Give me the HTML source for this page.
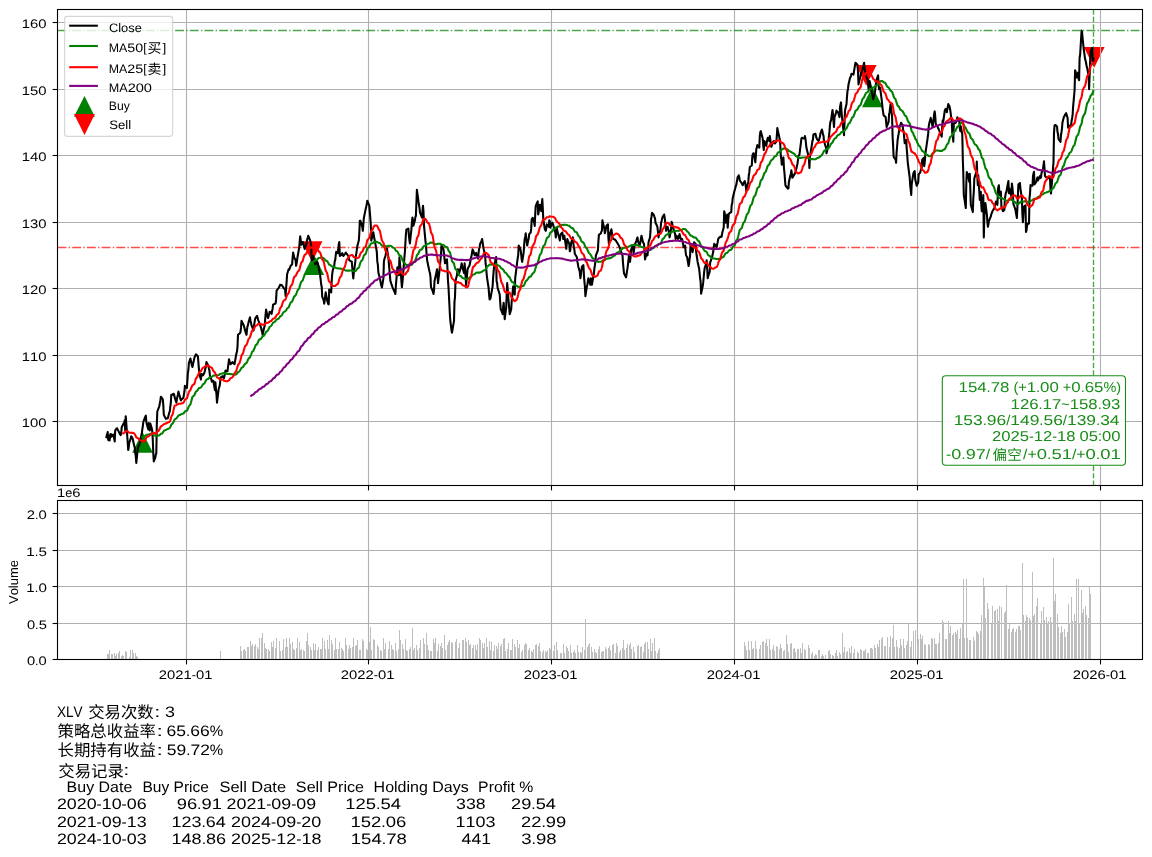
<!DOCTYPE html>
<html><head><meta charset="utf-8"><title>XLV</title>
<style>
html,body{margin:0;padding:0;background:#fff;}
body{width:1152px;height:857px;overflow:hidden;}
svg{display:block;will-change:transform;}
text{font-family:"Liberation Sans","Noto Sans CJK SC",sans-serif;font-kerning:none;white-space:pre;text-rendering:geometricPrecision;}
</style></head><body>
<svg width="1152" height="857" viewBox="0 0 1152 857">
<mask id="tm"><rect x="0" y="0" width="1152" height="857" fill="#fff"/></mask>
<g mask="url(#tm)">
<rect x="0" y="0" width="1152" height="857" fill="#fff"/>
<g stroke="#b0b0b0" stroke-width="1.1">
<line x1="186.5" y1="9.5" x2="186.5" y2="485.5"/>
<line x1="368.5" y1="9.5" x2="368.5" y2="485.5"/>
<line x1="551.5" y1="9.5" x2="551.5" y2="485.5"/>
<line x1="734.5" y1="9.5" x2="734.5" y2="485.5"/>
<line x1="917.5" y1="9.5" x2="917.5" y2="485.5"/>
<line x1="1100.5" y1="9.5" x2="1100.5" y2="485.5"/>
<line x1="57.5" y1="22.5" x2="1142.5" y2="22.5"/>
<line x1="57.5" y1="89.5" x2="1142.5" y2="89.5"/>
<line x1="57.5" y1="155.5" x2="1142.5" y2="155.5"/>
<line x1="57.5" y1="222.5" x2="1142.5" y2="222.5"/>
<line x1="57.5" y1="288.5" x2="1142.5" y2="288.5"/>
<line x1="57.5" y1="355.5" x2="1142.5" y2="355.5"/>
<line x1="57.5" y1="421.5" x2="1142.5" y2="421.5"/>
<line x1="186.5" y1="500.5" x2="186.5" y2="659.5"/>
<line x1="368.5" y1="500.5" x2="368.5" y2="659.5"/>
<line x1="551.5" y1="500.5" x2="551.5" y2="659.5"/>
<line x1="734.5" y1="500.5" x2="734.5" y2="659.5"/>
<line x1="917.5" y1="500.5" x2="917.5" y2="659.5"/>
<line x1="1100.5" y1="500.5" x2="1100.5" y2="659.5"/>
<line x1="57.5" y1="659.5" x2="1142.5" y2="659.5"/>
<line x1="57.5" y1="623.5" x2="1142.5" y2="623.5"/>
<line x1="57.5" y1="586.5" x2="1142.5" y2="586.5"/>
<line x1="57.5" y1="550.5" x2="1142.5" y2="550.5"/>
<line x1="57.5" y1="513.5" x2="1142.5" y2="513.5"/>
</g>
<clipPath id="c1"><rect x="57.5" y="9.5" width="1085.0" height="476.0"/></clipPath>
<g clip-path="url(#c1)">
<path d="M142.5 432.0 L132.1 452.8 L152.9 452.8Z" fill="#008000"/>
<path d="M313.8 254.2 L303.4 275.0 L324.2 275.0Z" fill="#008000"/>
<path d="M872.4 86.5 L862.0 107.3 L882.8 107.3Z" fill="#008000"/>
<path d="M312.1 262.1 L301.7 241.3 L322.5 241.3Z" fill="#ff0000"/>
<path d="M866.2 85.8 L855.8 65.0 L876.6 65.0Z" fill="#ff0000"/>
<path d="M1094.2 67.7 L1083.8 46.9 L1104.6 46.9Z" fill="#ff0000"/>
<line x1="1100.5" y1="40" x2="1100.5" y2="75" stroke="#b0b0b0" stroke-width="1.1"/>
<line x1="57.5" y1="30.5" x2="1142.5" y2="30.5" stroke="#008000" stroke-opacity="0.7" stroke-width="1.39" stroke-dasharray="8.9 2.2 1.4 2.2"/>
<line x1="57.5" y1="247.5" x2="1142.5" y2="247.5" stroke="#ff0000" stroke-opacity="0.7" stroke-width="1.39" stroke-dasharray="8.9 2.2 1.4 2.2"/>
<line x1="1093.5" y1="9.5" x2="1093.5" y2="485.5" stroke="#008000" stroke-opacity="0.7" stroke-width="1.39" stroke-dasharray="5.14 2.22"/>
<path d="M106.2 438.3 L106.7 435.9 L107.2 434.4 L107.7 432.0 L108.2 439.9 L109.7 440.4 L110.2 434.6 L110.7 434.1 L111.2 434.3 L111.7 436.7 L113.2 434.6 L113.7 434.6 L114.2 438.9 L114.7 441.4 L115.2 430.4 L116.7 428.5 L117.2 428.3 L117.7 429.8 L118.2 430.4 L118.7 431.5 L120.2 434.4 L120.7 435.1 L121.2 433.0 L121.7 427.3 L122.2 426.3 L123.7 423.3 L124.2 423.1 L124.7 420.4 L125.2 430.4 L125.7 416.2 L127.7 442.0 L128.2 449.9 L128.7 447.7 L129.2 443.0 L130.7 438.6 L131.2 436.2 L131.7 437.0 L132.2 437.5 L132.7 438.8 L134.2 445.8 L134.7 447.2 L135.2 452.4 L135.8 456.6 L136.3 463.0 L137.8 448.3 L138.3 446.9 L138.8 445.6 L139.3 444.7 L139.8 443.0 L141.3 435.7 L141.8 433.6 L142.3 429.4 L142.8 426.5 L143.3 422.0 L144.8 417.8 L145.3 416.6 L145.8 415.7 L146.3 421.6 L146.8 424.1 L148.3 429.4 L148.8 423.1 L149.3 426.8 L149.8 430.4 L150.3 423.6 L151.8 428.5 L152.3 431.5 L152.8 440.1 L153.3 453.5 L153.8 461.4 L155.3 457.6 L155.8 454.5 L156.3 453.5 L156.8 424.5 L157.3 411.5 L158.8 407.6 L159.3 406.3 L159.8 403.5 L160.3 401.5 L160.8 396.8 L162.3 398.4 L162.8 399.4 L163.3 405.1 L163.8 414.7 L164.3 415.7 L165.8 418.9 L166.3 418.5 L166.8 418.5 L167.8 418.3 L169.3 412.4 L169.8 411.5 L170.3 406.7 L170.8 403.0 L171.3 394.7 L172.8 394.6 L173.3 393.7 L173.8 393.7 L174.3 395.3 L174.8 397.9 L176.4 402.6 L176.9 398.8 L177.4 396.7 L177.9 394.7 L178.4 391.6 L179.9 396.7 L180.4 398.9 L180.9 400.5 L181.4 399.4 L183.4 397.9 L183.9 394.7 L184.4 391.8 L184.9 385.9 L186.9 388.0 L187.4 380.6 L187.9 372.6 L188.4 370.0 L188.9 362.8 L190.4 358.6 L190.9 360.8 L191.4 363.2 L191.9 365.4 L192.4 367.0 L194.4 357.9 L194.9 356.3 L195.4 355.6 L195.9 354.4 L197.4 355.6 L197.9 356.5 L198.4 362.5 L198.9 368.9 L199.4 374.0 L200.9 379.6 L201.4 374.0 L201.9 374.0 L202.4 374.5 L202.9 375.4 L204.4 372.7 L204.9 370.8 L205.4 368.4 L205.9 367.0 L206.4 362.1 L208.4 365.9 L208.9 368.4 L209.4 370.4 L209.9 375.4 L211.4 379.6 L211.9 381.7 L212.4 381.0 L212.9 380.8 L213.4 381.0 L214.9 390.1 L215.4 382.4 L215.9 388.7 L216.5 394.6 L217.0 402.7 L218.5 390.1 L219.0 387.6 L219.5 386.6 L220.0 383.8 L220.5 377.5 L222.0 377.0 L222.5 376.1 L223.0 377.1 L223.5 377.5 L224.0 378.2 L225.5 370.5 L226.0 371.0 L226.5 370.9 L227.0 371.4 L227.5 371.2 L229.0 359.3 L229.5 361.4 L230.0 362.8 L230.5 364.2 L232.5 362.1 L233.0 363.0 L233.5 363.5 L234.0 363.6 L234.5 364.2 L236.0 355.8 L236.5 353.0 L237.0 351.6 L237.5 346.6 L238.0 334.8 L239.5 333.5 L240.0 333.0 L240.5 332.0 L241.0 327.9 L241.5 320.8 L243.0 323.9 L243.5 324.7 L244.0 326.4 L244.5 328.0 L245.0 330.3 L246.5 334.8 L247.0 329.4 L247.5 326.4 L248.0 324.9 L248.5 322.4 L250.0 317.3 L250.5 321.2 L251.0 322.6 L251.5 325.4 L252.0 326.4 L253.5 330.6 L254.0 325.8 L254.5 322.6 L255.0 319.3 L255.5 318.0 L257.1 315.9 L257.6 317.8 L258.1 319.8 L258.6 321.1 L259.1 322.2 L261.1 327.8 L261.6 330.5 L262.1 331.9 L262.6 334.8 L264.1 327.8 L264.6 326.4 L265.1 320.1 L265.6 314.4 L266.1 309.6 L267.6 316.9 L268.1 318.0 L268.6 315.8 L269.1 314.5 L269.6 311.7 L271.1 312.8 L271.6 313.8 L272.1 311.0 L272.6 308.7 L273.1 304.7 L274.6 303.9 L275.1 304.0 L275.6 303.3 L276.1 299.4 L276.6 290.7 L278.6 288.0 L279.1 287.0 L279.6 286.4 L280.1 284.7 L281.6 285.1 L282.1 285.4 L282.6 286.4 L283.1 286.9 L283.6 288.0 L285.1 289.6 L285.6 295.9 L286.1 288.1 L286.6 282.1 L287.1 274.2 L288.6 269.3 L289.1 270.0 L289.6 268.5 L290.1 267.5 L290.6 265.8 L292.1 264.4 L292.6 258.2 L293.1 252.5 L293.6 254.8 L294.1 257.2 L295.6 260.2 L296.1 265.8 L296.6 263.4 L297.1 259.9 L297.7 256.0 L299.2 247.6 L299.7 241.3 L300.2 236.4 L300.7 239.6 L301.2 244.8 L302.7 242.0 L303.2 243.1 L303.7 245.3 L304.2 247.4 L304.7 249.0 L306.2 244.8 L306.7 242.0 L307.2 239.5 L307.7 237.8 L308.2 235.7 L310.2 240.6 L310.7 242.7 L311.2 246.2 L311.7 260.2 L313.2 256.0 L313.7 259.4 L314.2 261.2 L314.7 263.0 L315.2 264.4 L316.7 263.2 L317.2 261.6 L317.7 262.8 L318.2 265.1 L318.7 267.2 L320.2 275.6 L320.7 280.0 L321.2 284.6 L321.7 286.8 L322.2 296.6 L323.7 300.3 L324.2 303.6 L324.7 300.5 L325.2 296.0 L325.7 292.4 L327.2 300.8 L327.7 302.1 L328.2 304.1 L328.7 304.3 L329.2 289.6 L330.7 291.8 L331.2 292.4 L331.7 280.9 L332.2 274.2 L332.7 270.6 L334.2 265.8 L334.7 261.3 L335.2 260.2 L335.7 255.5 L336.2 251.8 L337.8 253.2 L338.3 249.5 L338.8 244.1 L339.3 242.0 L339.8 256.0 L341.3 254.9 L341.8 253.8 L342.3 253.2 L342.8 254.0 L343.3 256.0 L344.8 254.2 L345.3 253.5 L345.8 252.5 L346.3 253.3 L346.8 253.9 L348.3 256.0 L348.8 258.4 L349.3 260.2 L350.3 261.0 L351.8 261.6 L352.3 268.0 L352.8 273.8 L353.3 278.4 L353.8 272.8 L355.3 261.8 L355.8 256.0 L356.3 253.4 L356.8 250.2 L357.3 246.2 L358.8 240.6 L359.3 233.5 L359.8 221.0 L360.3 220.7 L360.8 221.7 L362.3 227.1 L362.8 230.8 L363.3 225.1 L363.8 218.2 L365.8 208.4 L366.3 206.2 L366.8 203.7 L367.3 200.7 L369.3 205.6 L369.8 211.8 L370.3 218.2 L370.8 225.2 L371.3 240.6 L372.8 234.1 L373.3 232.2 L373.8 235.2 L374.3 238.6 L374.8 240.6 L376.8 251.8 L377.3 261.6 L377.8 264.1 L378.4 272.8 L379.9 278.2 L380.4 281.2 L380.9 283.9 L381.4 286.0 L381.9 287.5 L383.4 278.4 L383.9 261.6 L384.4 259.0 L384.9 257.7 L385.4 256.0 L386.9 248.4 L387.4 251.4 L387.9 254.2 L388.4 257.3 L388.9 264.0 L390.4 281.1 L390.9 282.4 L391.4 284.1 L391.9 285.2 L392.4 287.1 L394.4 291.5 L394.9 292.8 L395.4 294.0 L395.9 285.4 L397.4 267.2 L397.9 271.1 L398.4 273.5 L398.9 275.2 L399.4 257.3 L400.9 273.6 L401.4 281.1 L401.9 287.1 L402.4 282.7 L402.9 277.1 L404.4 257.3 L404.9 251.8 L405.4 242.8 L405.9 234.3 L406.4 229.5 L407.9 229.1 L408.4 228.5 L408.9 235.6 L409.4 240.0 L409.9 243.4 L411.4 229.5 L411.9 222.7 L412.4 217.6 L412.9 219.5 L413.4 225.6 L414.9 220.5 L415.4 217.1 L415.9 215.6 L416.4 203.3 L416.9 189.8 L418.5 201.7 L419.0 204.8 L419.5 207.9 L420.0 212.7 L422.0 217.6 L422.5 210.6 L423.0 205.7 L423.5 211.5 L424.0 225.6 L425.5 241.4 L426.0 245.9 L426.5 252.5 L427.0 259.3 L427.5 262.3 L429.0 269.2 L429.5 271.5 L430.0 273.2 L430.5 277.5 L431.0 287.1 L432.5 290.5 L433.0 292.3 L433.5 294.0 L434.0 290.4 L434.5 281.1 L436.0 274.6 L436.5 271.9 L437.0 269.2 L437.5 275.0 L438.0 283.1 L439.5 270.3 L440.0 265.2 L440.5 259.8 L441.0 254.6 L441.5 245.4 L443.5 249.4 L444.0 254.1 L444.5 259.2 L445.0 263.3 L446.5 259.6 L447.0 259.3 L447.5 269.6 L448.0 281.1 L448.5 287.3 L450.0 316.8 L450.5 322.3 L451.0 325.8 L451.5 330.6 L452.0 332.7 L454.0 320.8 L454.5 301.6 L455.0 297.0 L455.5 281.1 L457.0 275.0 L457.5 269.2 L458.0 269.3 L458.5 270.5 L459.1 273.2 L461.1 266.4 L461.6 263.3 L462.1 265.7 L462.6 268.3 L464.1 273.2 L464.6 263.3 L465.1 268.8 L465.6 276.7 L466.1 285.1 L467.6 269.2 L468.1 268.0 L468.6 267.1 L469.1 266.2 L469.6 265.2 L471.1 257.3 L471.6 255.6 L472.1 252.2 L472.6 249.4 L473.1 250.4 L474.6 255.3 L475.1 254.8 L475.6 253.9 L476.1 252.9 L476.6 254.6 L478.1 258.6 L478.6 252.7 L479.1 248.8 L479.6 247.2 L480.1 244.0 L481.6 240.6 L482.1 239.0 L482.6 241.9 L483.1 246.1 L483.6 248.8 L485.1 255.3 L485.6 263.7 L486.1 266.8 L486.6 273.5 L487.1 278.2 L488.6 288.0 L489.1 294.7 L489.6 299.5 L490.1 299.0 L490.6 297.8 L492.6 286.4 L493.1 278.0 L493.6 271.7 L494.1 266.7 L495.6 258.6 L496.1 257.0 L496.6 281.5 L497.1 282.9 L497.6 288.0 L499.1 292.4 L499.7 294.6 L500.2 302.1 L500.7 309.3 L501.2 310.1 L502.7 314.2 L503.2 306.1 L503.7 302.7 L504.2 310.8 L504.7 319.1 L506.2 307.6 L506.7 293.2 L507.2 283.1 L507.7 289.2 L508.2 296.2 L509.7 314.2 L510.2 312.6 L510.7 310.9 L511.2 309.1 L511.7 301.1 L513.2 286.4 L513.7 289.3 L514.2 292.3 L514.7 294.6 L515.2 278.2 L516.7 266.0 L517.2 261.9 L517.7 258.1 L518.2 255.3 L518.7 245.5 L520.2 248.5 L520.7 250.4 L521.2 254.6 L521.7 259.5 L522.2 261.9 L523.7 252.1 L524.2 244.0 L524.7 239.0 L525.2 236.9 L525.7 233.3 L527.2 245.5 L527.7 243.1 L528.2 240.6 L528.7 238.7 L529.2 234.1 L530.7 232.5 L531.2 228.4 L531.7 219.4 L532.7 217.8 L534.2 222.9 L534.7 225.9 L535.2 214.9 L535.7 206.3 L536.2 204.7 L537.7 201.4 L538.2 214.5 L538.7 211.8 L539.2 207.7 L539.8 204.7 L541.3 211.2 L541.8 203.6 L542.3 199.0 L542.8 208.6 L543.3 219.4 L544.8 229.2 L545.3 230.2 L545.8 230.8 L546.3 227.8 L546.8 224.3 L548.8 226.8 L549.3 220.2 L549.8 221.5 L550.3 227.6 L552.3 222.7 L552.8 223.7 L553.3 225.1 L553.8 227.4 L555.3 232.5 L555.8 237.4 L556.3 232.7 L556.8 227.6 L557.3 230.8 L559.3 238.3 L559.8 240.6 L560.3 236.7 L560.8 234.1 L562.3 232.5 L562.8 235.1 L563.3 239.0 L563.8 238.4 L564.3 235.7 L565.8 245.3 L566.3 248.8 L566.8 243.5 L567.3 239.0 L567.8 240.4 L569.3 243.9 L569.8 251.3 L570.3 249.8 L570.8 245.5 L571.3 242.3 L572.8 237.4 L573.3 242.7 L573.8 247.2 L574.3 249.1 L574.8 253.7 L576.8 257.0 L577.3 261.2 L577.8 263.5 L578.3 266.7 L579.8 271.7 L580.4 278.2 L580.9 274.9 L581.4 270.5 L581.9 266.8 L583.4 265.2 L583.9 274.8 L584.4 281.5 L584.9 286.5 L585.4 296.2 L586.9 286.4 L587.4 284.4 L587.9 280.8 L588.4 278.2 L588.9 280.5 L590.4 284.8 L590.9 278.2 L591.4 280.4 L591.9 284.8 L592.4 281.8 L593.9 273.3 L594.4 268.4 L594.9 265.3 L595.4 261.1 L595.9 255.3 L597.4 251.6 L597.9 250.4 L598.4 241.4 L598.9 234.9 L600.9 233.3 L601.4 231.5 L601.9 230.8 L602.4 220.2 L602.9 222.4 L604.4 229.2 L604.9 233.3 L605.4 231.3 L605.9 228.5 L606.4 225.9 L607.9 224.3 L608.4 238.2 L608.9 243.9 L609.4 238.5 L609.9 234.1 L611.4 229.2 L611.9 232.8 L612.4 237.4 L612.9 238.2 L613.4 239.0 L614.9 239.4 L615.4 240.2 L615.9 240.6 L616.4 241.5 L616.9 242.3 L618.4 244.8 L618.9 245.5 L619.4 246.9 L619.9 248.1 L620.5 250.4 L622.0 254.2 L622.5 255.3 L623.0 263.1 L623.5 268.4 L624.0 273.3 L626.0 277.4 L626.5 274.8 L627.0 270.9 L627.5 268.4 L629.0 255.3 L629.5 259.5 L630.0 261.9 L630.5 257.6 L631.0 250.4 L632.5 245.5 L633.0 248.0 L633.5 252.9 L634.0 250.7 L634.5 245.5 L636.5 240.6 L637.0 238.4 L637.5 237.4 L638.0 241.2 L639.5 245.5 L640.0 243.9 L640.5 241.6 L641.0 237.9 L641.5 235.7 L643.0 242.3 L644.0 243.9 L644.5 250.6 L645.0 259.4 L646.5 253.7 L647.0 254.5 L647.5 255.3 L648.0 250.6 L648.5 242.3 L650.0 237.4 L650.5 231.2 L651.0 219.4 L651.5 216.7 L652.0 212.9 L653.5 214.5 L654.0 215.4 L654.5 217.0 L655.0 218.4 L655.5 222.7 L657.0 225.8 L657.5 227.6 L658.0 232.4 L658.5 237.4 L659.0 234.8 L660.5 229.2 L661.1 223.0 L661.6 221.0 L662.1 218.6 L662.6 217.0 L664.1 214.5 L664.6 217.3 L665.1 221.0 L665.6 225.7 L666.1 230.8 L667.6 226.8 L668.1 229.2 L668.6 230.0 L669.1 234.2 L669.6 237.4 L671.1 229.2 L671.6 221.9 L672.1 223.0 L672.6 225.7 L673.1 227.6 L675.1 234.1 L675.6 239.0 L676.1 238.2 L676.6 235.7 L678.1 239.0 L678.6 238.3 L679.1 235.5 L679.6 234.1 L680.1 236.6 L681.6 240.6 L682.1 239.0 L682.6 241.3 L683.1 244.3 L683.6 247.2 L685.1 245.5 L685.6 251.8 L686.1 255.3 L686.6 256.2 L687.1 257.0 L688.6 266.0 L689.1 263.2 L689.6 259.0 L690.1 255.3 L690.6 243.9 L692.1 248.5 L692.6 252.1 L693.1 248.2 L693.6 244.6 L694.1 242.3 L695.6 243.9 L696.1 250.9 L696.6 255.3 L697.1 258.1 L697.6 261.9 L699.1 268.4 L699.6 273.2 L700.1 278.3 L700.6 281.5 L701.1 293.7 L702.7 286.4 L703.2 282.4 L703.7 277.0 L704.2 271.7 L704.7 268.0 L706.2 263.5 L706.7 260.2 L707.2 268.6 L707.7 278.2 L708.2 276.2 L709.7 271.7 L710.2 261.9 L710.7 261.3 L711.2 259.5 L711.7 258.6 L713.2 252.1 L713.7 247.6 L714.2 243.9 L715.2 245.0 L716.7 247.2 L717.2 244.0 L717.7 242.2 L718.2 239.1 L718.7 238.2 L720.2 236.6 L720.7 237.1 L721.2 236.6 L721.7 236.6 L722.2 233.1 L723.7 227.6 L724.2 211.3 L724.7 213.2 L725.2 217.9 L725.7 222.7 L727.2 214.6 L727.7 227.6 L728.2 220.5 L728.7 214.6 L729.2 213.4 L731.2 212.1 L731.7 204.8 L732.2 203.5 L732.7 198.2 L734.7 190.1 L735.2 188.5 L735.7 186.5 L736.2 185.2 L737.7 177.0 L738.2 176.5 L738.7 175.3 L739.2 177.0 L739.7 180.2 L741.8 183.5 L742.3 184.4 L742.8 185.2 L743.3 183.3 L744.8 181.1 L745.3 183.5 L745.8 186.7 L746.3 190.9 L746.8 187.5 L748.3 181.9 L748.8 175.3 L749.3 172.4 L749.8 167.2 L750.3 166.5 L751.8 165.5 L752.3 156.6 L752.8 154.1 L753.3 153.3 L753.8 153.3 L755.3 162.3 L755.8 156.2 L756.3 149.2 L756.8 147.9 L757.3 145.1 L759.3 147.6 L759.8 136.1 L760.3 132.1 L760.8 131.2 L762.3 136.9 L762.8 139.4 L763.3 146.0 L763.8 150.0 L764.3 141.0 L765.8 144.7 L766.3 145.9 L766.8 142.3 L767.3 139.7 L767.8 137.8 L769.3 141.0 L769.8 136.1 L770.3 139.7 L770.8 144.2 L771.3 146.8 L772.8 142.7 L773.3 141.6 L773.8 141.0 L774.3 141.6 L774.8 143.5 L776.3 141.9 L776.8 136.1 L777.3 128.0 L777.8 130.4 L779.8 139.4 L780.3 145.2 L780.8 155.7 L781.3 158.9 L781.8 164.7 L783.4 157.4 L783.9 167.3 L784.4 172.1 L784.9 178.5 L785.4 185.2 L786.9 187.6 L787.4 187.5 L787.9 188.7 L788.4 188.4 L788.9 181.9 L790.4 175.3 L790.9 173.7 L791.4 170.4 L791.9 174.2 L792.4 177.8 L793.9 175.3 L794.4 174.2 L794.9 173.7 L795.4 172.5 L795.9 170.4 L797.4 163.9 L797.9 160.6 L798.4 155.7 L798.9 155.3 L799.4 154.9 L800.9 142.8 L801.4 138.6 L801.9 137.8 L802.4 137.8 L802.9 138.2 L804.4 138.6 L804.9 136.1 L805.4 138.4 L805.9 143.0 L806.4 147.6 L808.4 155.7 L808.9 159.0 L809.4 168.0 L809.9 157.4 L811.4 147.6 L811.9 144.6 L812.4 141.0 L812.9 139.8 L813.4 134.5 L814.9 134.1 L815.4 133.7 L815.9 135.7 L816.4 137.8 L816.9 138.8 L818.4 141.0 L818.9 140.2 L819.9 136.8 L820.4 133.7 L821.9 129.6 L822.5 131.6 L823.0 134.5 L823.5 135.7 L824.0 141.0 L825.5 146.1 L826.0 147.6 L826.5 153.3 L827.5 149.2 L829.0 135.8 L829.5 131.2 L830.0 124.5 L830.5 121.4 L831.0 120.6 L832.5 110.0 L833.0 114.4 L833.5 121.4 L834.0 126.9 L834.5 117.1 L836.0 112.8 L836.5 110.5 L837.0 111.6 L837.5 112.0 L838.0 112.2 L839.5 117.1 L840.0 107.3 L840.5 104.6 L841.0 102.4 L841.5 112.2 L843.0 126.9 L843.5 131.0 L844.0 135.1 L844.5 122.6 L845.0 110.5 L846.5 104.0 L847.0 96.7 L847.5 90.9 L848.0 88.7 L848.5 84.4 L850.0 77.9 L850.5 77.0 L851.0 75.8 L851.5 73.8 L852.0 73.9 L853.5 74.6 L854.0 71.3 L854.5 68.4 L855.0 65.3 L855.5 62.8 L857.5 64.8 L858.0 71.3 L858.5 84.4 L859.0 82.1 L860.5 76.2 L861.0 73.3 L861.5 73.0 L862.0 71.3 L862.5 69.7 L864.1 62.8 L864.6 68.1 L865.1 71.3 L865.6 74.0 L866.1 76.2 L867.6 79.5 L868.1 84.8 L868.6 89.3 L869.1 86.3 L869.6 81.1 L871.1 87.7 L871.6 90.4 L872.1 93.3 L872.6 95.8 L873.1 99.1 L874.6 93.7 L875.1 90.9 L875.6 86.0 L876.1 82.4 L876.6 79.5 L878.1 75.4 L878.6 85.6 L879.1 89.3 L879.6 88.7 L880.1 87.7 L881.6 99.1 L882.1 103.6 L882.6 108.8 L883.1 112.2 L883.6 115.4 L885.1 116.6 L885.6 117.1 L886.1 121.1 L886.6 126.9 L887.1 126.0 L888.6 122.0 L889.1 114.1 L889.6 112.2 L890.1 107.6 L890.6 104.0 L892.1 117.1 L892.6 136.7 L893.1 145.1 L893.6 156.3 L894.1 157.5 L895.6 159.6 L896.1 162.8 L896.6 152.3 L897.1 146.5 L897.6 140.0 L899.1 130.8 L899.6 126.9 L900.1 125.5 L901.1 122.8 L902.6 125.2 L903.1 129.8 L903.7 131.8 L904.2 137.7 L904.7 143.2 L906.2 140.0 L906.7 148.4 L907.2 154.7 L907.7 161.8 L908.2 166.1 L909.7 177.5 L910.2 185.7 L910.7 189.7 L911.2 195.0 L911.7 184.1 L913.2 174.3 L913.7 172.5 L914.7 171.0 L915.2 179.2 L916.7 185.7 L917.2 184.6 L918.2 182.4 L918.7 174.3 L920.2 172.6 L920.7 170.6 L921.2 168.9 L921.7 167.7 L922.2 159.6 L923.7 157.9 L924.2 166.1 L924.7 162.6 L925.2 156.3 L925.7 151.4 L927.7 137.6 L928.2 133.4 L928.7 126.6 L929.2 123.6 L930.7 117.9 L931.2 120.3 L931.7 122.6 L932.2 124.9 L932.7 126.9 L934.2 113.8 L934.7 111.4 L935.2 115.8 L935.7 123.6 L936.2 124.8 L937.7 126.9 L938.2 128.5 L938.7 129.0 L939.2 130.5 L939.7 131.8 L941.7 136.7 L942.2 126.9 L942.7 120.3 L943.2 122.0 L944.8 110.5 L945.3 109.3 L945.8 108.9 L946.3 110.5 L946.8 112.2 L948.3 104.0 L948.8 105.3 L949.3 105.6 L949.8 107.9 L950.3 110.5 L951.8 122.0 L952.3 133.4 L952.8 135.4 L953.3 141.6 L953.8 123.6 L955.3 123.1 L955.8 122.5 L956.3 121.4 L956.8 120.5 L957.3 117.4 L958.8 120.6 L959.3 121.4 L959.8 128.1 L960.3 131.2 L960.8 126.3 L962.3 134.5 L962.8 159.0 L963.3 173.6 L963.8 195.0 L964.3 198.2 L965.8 208.0 L966.3 183.5 L966.8 172.1 L967.3 173.6 L967.8 173.7 L969.3 181.9 L969.8 173.7 L970.3 188.4 L970.8 204.8 L972.8 212.1 L973.3 198.2 L973.8 191.8 L974.3 178.6 L974.8 176.9 L976.3 172.1 L976.8 161.5 L977.3 175.7 L977.8 185.2 L978.3 175.3 L979.8 199.9 L980.3 194.9 L980.8 191.7 L981.3 204.6 L981.8 211.3 L983.3 195.0 L983.8 237.4 L984.4 214.6 L984.9 211.9 L985.4 203.1 L986.9 214.6 L987.4 222.2 L987.9 226.8 L988.4 224.3 L988.9 221.1 L990.9 216.2 L991.4 213.7 L991.9 212.9 L992.4 211.3 L993.9 208.9 L994.4 208.0 L994.9 205.4 L995.4 203.4 L995.9 201.5 L997.4 204.8 L997.9 190.1 L998.4 186.5 L998.9 185.2 L999.4 195.0 L1000.9 191.7 L1001.4 206.4 L1001.9 207.8 L1002.9 211.3 L1004.4 209.7 L1004.9 198.2 L1005.4 195.5 L1005.9 192.7 L1006.4 191.7 L1007.9 183.5 L1008.4 181.1 L1008.9 193.3 L1009.4 188.4 L1011.4 196.6 L1011.9 183.5 L1012.4 187.6 L1012.9 192.8 L1013.4 204.0 L1014.9 208.0 L1015.4 209.6 L1015.9 212.7 L1016.4 215.2 L1016.9 218.0 L1018.4 184.4 L1018.9 183.8 L1019.4 183.8 L1019.9 183.0 L1020.4 188.6 L1021.9 198.4 L1022.4 214.5 L1022.9 222.2 L1023.4 213.6 L1023.9 206.8 L1025.5 205.4 L1026.0 232.0 L1026.5 230.2 L1027.0 226.3 L1027.5 223.6 L1029.0 223.6 L1029.5 198.4 L1030.0 193.7 L1030.5 185.1 L1031.0 185.7 L1032.5 185.8 L1033.0 176.0 L1033.5 173.6 L1034.0 171.8 L1034.5 184.4 L1036.0 182.2 L1036.5 181.6 L1037.0 178.6 L1037.5 177.4 L1038.0 180.2 L1040.0 176.0 L1040.5 178.1 L1041.0 177.2 L1041.5 173.2 L1043.0 169.0 L1043.5 165.1 L1044.0 161.3 L1044.5 168.5 L1045.0 176.0 L1046.5 177.4 L1047.0 178.8 L1047.5 178.5 L1048.0 177.3 L1048.5 176.7 L1050.0 178.8 L1050.5 190.0 L1051.0 193.5 L1051.5 187.3 L1052.0 181.6 L1053.5 162.0 L1054.0 133.3 L1054.5 125.6 L1055.0 125.0 L1055.5 125.0 L1057.0 126.4 L1057.5 132.0 L1058.0 133.9 L1058.5 139.0 L1059.0 139.6 L1060.5 141.8 L1061.0 134.8 L1061.5 132.0 L1062.0 128.1 L1062.5 122.2 L1064.0 116.6 L1064.5 116.0 L1065.1 114.5 L1065.6 114.1 L1066.1 113.1 L1067.6 118.0 L1068.1 127.8 L1068.6 126.9 L1069.1 126.4 L1069.6 125.9 L1071.1 125.0 L1071.6 120.8 L1072.1 118.3 L1072.6 115.2 L1073.1 106.8 L1074.6 90.0 L1075.1 70.4 L1075.6 71.8 L1076.1 74.5 L1076.6 77.4 L1078.1 72.5 L1078.6 78.8 L1079.1 80.2 L1079.6 57.8 L1080.1 55.0 L1081.6 30.5 L1082.1 32.6 L1082.6 38.2 L1083.6 48.0 L1085.1 59.2 L1085.6 60.6 L1086.1 63.0 L1086.6 66.0 L1087.1 67.6 L1088.6 76.0 L1089.1 89.3 L1089.6 76.0 L1090.1 62.0 L1090.6 52.2 L1092.1 48.0 L1092.6 56.4 L1093.1 62.0 L1093.6 57.7" fill="none" stroke="#000" stroke-width="2.08" stroke-linejoin="round"/>
<path d="M141.3 437.2 L141.8 437.1 L142.3 437.0 L142.8 436.8 L143.3 436.6 L144.8 436.2 L145.3 435.7 L145.8 435.3 L146.3 435.0 L146.8 434.8 L148.3 434.7 L148.8 434.5 L149.3 434.3 L149.8 434.1 L150.3 433.8 L151.8 433.7 L152.3 433.8 L152.8 434.0 L153.3 434.5 L153.8 435.1 L155.3 435.7 L155.8 436.1 L156.3 436.4 L156.8 436.3 L157.3 435.9 L158.8 435.6 L159.3 435.2 L159.8 434.8 L160.3 434.5 L160.8 433.8 L162.3 433.4 L162.8 432.6 L163.3 431.7 L163.8 431.0 L164.3 430.5 L165.8 430.1 L166.3 429.7 L166.8 429.4 L167.8 429.0 L169.3 428.4 L169.8 427.8 L170.3 426.9 L170.8 426.0 L171.3 424.7 L172.8 423.3 L173.3 422.3 L173.8 421.2 L174.3 420.2 L174.8 419.3 L176.4 418.4 L176.9 417.7 L177.4 417.0 L177.9 416.3 L178.4 415.6 L179.9 415.1 L180.4 414.7 L180.9 414.4 L181.4 414.0 L183.4 413.6 L183.9 413.0 L184.4 412.2 L184.9 411.5 L186.9 410.7 L187.4 409.7 L187.9 408.7 L188.4 407.5 L188.9 406.1 L190.4 404.5 L190.9 402.7 L191.4 400.7 L191.9 398.9 L192.4 397.1 L194.4 395.2 L194.9 393.8 L195.4 392.7 L195.9 391.6 L197.4 390.6 L197.9 389.7 L198.4 388.9 L198.9 388.3 L199.4 387.9 L200.9 387.5 L201.4 386.8 L201.9 386.0 L202.4 385.2 L202.9 384.3 L204.4 383.4 L204.9 382.5 L205.4 381.5 L205.9 380.6 L206.4 379.6 L208.4 378.8 L208.9 378.1 L209.4 377.6 L209.9 377.2 L211.4 376.9 L211.9 376.7 L212.4 376.4 L212.9 376.0 L213.4 375.6 L214.9 375.4 L215.4 375.2 L215.9 375.0 L216.5 375.1 L217.0 375.2 L218.5 375.0 L219.0 374.8 L219.5 374.5 L220.0 374.2 L220.5 373.9 L222.0 373.6 L222.5 373.4 L223.0 373.2 L223.5 373.1 L224.0 373.2 L225.5 373.3 L226.0 373.4 L226.5 373.7 L227.0 373.9 L227.5 374.0 L229.0 373.9 L229.5 373.8 L230.0 373.9 L230.5 374.1 L232.5 374.2 L233.0 374.4 L233.5 374.5 L234.0 374.7 L234.5 374.7 L236.0 374.4 L236.5 374.0 L237.0 373.5 L237.5 372.9 L238.0 372.1 L239.5 371.3 L240.0 370.5 L240.5 369.6 L241.0 368.8 L241.5 367.8 L243.0 367.0 L243.5 366.2 L244.0 365.4 L244.5 364.6 L245.0 363.8 L246.5 363.0 L247.0 362.0 L247.5 360.9 L248.0 359.8 L248.5 358.6 L250.0 357.3 L250.5 356.0 L251.0 354.8 L251.5 353.5 L252.0 352.1 L253.5 350.7 L254.0 349.4 L254.5 348.1 L255.0 346.8 L255.5 345.4 L257.1 344.2 L257.6 343.0 L258.1 341.9 L258.6 340.8 L259.1 339.7 L261.1 338.7 L261.6 337.9 L262.1 337.1 L262.6 336.4 L264.1 335.5 L264.6 334.6 L265.1 333.8 L265.6 332.9 L266.1 331.8 L267.6 330.9 L268.1 330.0 L268.6 329.0 L269.1 328.1 L269.6 327.0 L271.1 326.0 L271.6 325.2 L272.1 324.3 L272.6 323.5 L273.1 322.6 L274.6 322.0 L275.1 321.4 L275.6 320.8 L276.1 320.2 L276.6 319.4 L278.6 318.8 L279.1 318.0 L279.6 317.3 L280.1 316.4 L281.6 315.6 L282.1 314.7 L282.6 313.7 L283.1 312.9 L283.6 312.1 L285.1 311.4 L285.6 310.8 L286.1 310.3 L286.6 309.5 L287.1 308.5 L288.6 307.4 L289.1 306.3 L289.6 305.0 L290.1 303.9 L290.6 302.7 L292.1 301.6 L292.6 300.4 L293.1 299.2 L293.6 297.9 L294.1 296.6 L295.6 295.4 L296.1 294.3 L296.6 293.0 L297.1 291.6 L297.7 290.1 L299.2 288.3 L299.7 286.6 L300.2 284.8 L300.7 283.2 L301.2 281.8 L302.7 280.5 L303.2 279.0 L303.7 277.5 L304.2 276.2 L304.7 274.8 L306.2 273.5 L306.7 272.1 L307.2 270.6 L307.7 269.1 L308.2 267.7 L310.2 266.4 L310.7 265.2 L311.2 264.0 L311.7 263.2 L313.2 262.3 L313.7 261.7 L314.2 261.1 L314.7 260.6 L315.2 260.2 L316.7 259.8 L317.2 259.3 L317.7 258.9 L318.2 258.4 L318.7 258.0 L320.2 257.8 L320.7 257.6 L321.2 257.4 L321.7 257.3 L322.2 257.6 L323.7 258.2 L324.2 258.8 L324.7 259.4 L325.2 260.0 L325.7 260.5 L327.2 261.2 L327.7 261.9 L328.2 262.9 L328.7 263.9 L329.2 264.6 L330.7 265.3 L331.2 265.9 L331.7 266.2 L332.2 266.5 L332.7 266.7 L334.2 266.9 L334.7 267.1 L335.2 267.5 L335.7 267.9 L336.2 268.1 L337.8 268.3 L338.3 268.5 L338.8 268.5 L339.3 268.4 L339.8 268.6 L341.3 268.7 L341.8 268.9 L342.3 269.1 L342.8 269.4 L343.3 269.8 L344.8 270.1 L345.3 270.4 L345.8 270.6 L346.3 270.7 L346.8 270.6 L348.3 270.6 L348.8 270.6 L349.3 270.6 L350.3 270.5 L351.8 270.5 L352.3 270.6 L352.8 270.8 L353.3 271.1 L353.8 271.3 L355.3 271.2 L355.8 270.8 L356.3 270.2 L356.8 269.5 L357.3 268.7 L358.8 267.6 L359.3 266.3 L359.8 264.6 L360.3 263.0 L360.8 261.5 L362.3 260.2 L362.8 258.8 L363.3 257.3 L363.8 255.6 L365.8 253.7 L366.3 252.0 L366.8 250.2 L367.3 248.4 L369.3 246.9 L369.8 245.6 L370.3 244.6 L370.8 243.8 L371.3 243.4 L372.8 242.9 L373.3 242.4 L373.8 242.1 L374.3 241.8 L374.8 241.6 L376.8 241.7 L377.3 242.1 L377.8 242.3 L378.4 242.7 L379.9 243.1 L380.4 243.7 L380.9 244.3 L381.4 244.9 L381.9 245.6 L383.4 246.1 L383.9 246.2 L384.4 246.4 L384.9 246.4 L385.4 246.4 L386.9 246.2 L387.4 246.1 L387.9 245.9 L388.4 245.8 L388.9 245.8 L390.4 245.9 L390.9 246.0 L391.4 246.2 L391.9 246.7 L392.4 247.3 L394.4 248.1 L394.9 248.9 L395.4 249.9 L395.9 250.8 L397.4 251.4 L397.9 252.4 L398.4 253.5 L398.9 254.6 L399.4 255.2 L400.9 256.0 L401.4 257.1 L401.9 258.5 L402.4 260.0 L402.9 261.4 L404.4 262.5 L404.9 263.5 L405.4 264.3 L405.9 264.7 L406.4 264.9 L407.9 265.0 L408.4 264.8 L408.9 264.8 L409.4 265.0 L409.9 265.1 L411.4 264.9 L411.9 264.6 L412.4 263.9 L412.9 263.1 L413.4 262.3 L414.9 261.2 L415.4 260.0 L415.9 258.7 L416.4 257.1 L416.9 255.2 L418.5 253.5 L419.0 252.0 L419.5 250.9 L420.0 250.0 L422.0 249.2 L422.5 248.3 L423.0 247.4 L423.5 246.6 L424.0 246.0 L425.5 245.7 L426.0 245.4 L426.5 244.8 L427.0 244.3 L427.5 243.9 L429.0 243.6 L429.5 243.3 L430.0 242.9 L430.5 242.6 L431.0 242.5 L432.5 242.6 L433.0 243.1 L433.5 243.5 L434.0 243.9 L434.5 244.0 L436.0 244.3 L436.5 244.3 L437.0 244.0 L437.5 243.8 L438.0 243.8 L439.5 243.7 L440.0 243.8 L440.5 244.0 L441.0 244.2 L441.5 244.5 L443.5 244.9 L444.0 245.4 L444.5 246.0 L445.0 246.5 L446.5 246.9 L447.0 247.2 L447.5 248.0 L448.0 249.2 L448.5 250.6 L450.0 252.5 L450.5 254.5 L451.0 256.6 L451.5 258.9 L452.0 261.2 L454.0 263.5 L454.5 265.8 L455.0 267.7 L455.5 269.2 L457.0 270.6 L457.5 271.7 L458.0 272.7 L458.5 273.9 L459.1 275.3 L461.1 276.4 L461.6 277.1 L462.1 277.6 L462.6 278.0 L464.1 278.5 L464.6 278.5 L465.1 278.7 L465.6 278.8 L466.1 279.1 L467.6 279.0 L468.1 278.8 L468.6 278.4 L469.1 277.9 L469.6 277.4 L471.1 276.7 L471.6 276.0 L472.1 275.4 L472.6 274.9 L473.1 274.5 L474.6 274.2 L475.1 273.8 L475.6 273.2 L476.1 272.8 L476.6 272.6 L478.1 272.6 L478.6 272.6 L479.1 272.6 L479.6 272.6 L480.1 272.4 L481.6 272.0 L482.1 271.5 L482.6 271.2 L483.1 270.9 L483.6 270.5 L485.1 270.0 L485.6 269.5 L486.1 268.5 L486.6 267.5 L487.1 266.6 L488.6 265.7 L489.1 265.0 L489.6 264.5 L490.1 264.5 L490.6 264.5 L492.6 264.6 L493.1 264.7 L493.6 264.7 L494.1 264.7 L495.6 264.4 L496.1 264.1 L496.6 264.4 L497.1 264.8 L497.6 265.2 L499.1 265.7 L499.7 266.2 L500.2 266.9 L500.7 267.7 L501.2 268.4 L502.7 269.0 L503.2 269.7 L503.7 270.4 L504.2 271.3 L504.7 272.4 L506.2 273.2 L506.7 273.9 L507.2 274.5 L507.7 275.2 L508.2 276.1 L509.7 277.4 L510.2 278.6 L510.7 279.7 L511.2 280.8 L511.7 281.8 L513.2 282.4 L513.7 283.0 L514.2 283.8 L514.7 284.7 L515.2 285.3 L516.7 285.8 L517.2 286.2 L517.7 286.6 L518.2 286.9 L518.7 286.8 L520.2 286.8 L520.7 286.7 L521.2 286.6 L521.7 286.4 L522.2 286.2 L523.7 285.7 L524.2 284.8 L524.7 283.7 L525.2 282.4 L525.7 281.1 L527.2 280.1 L527.7 279.2 L528.2 278.4 L528.7 277.8 L529.2 277.1 L530.7 276.6 L531.2 276.0 L531.7 274.8 L532.7 273.5 L534.2 272.2 L534.7 270.9 L535.2 269.3 L535.7 267.4 L536.2 265.3 L537.7 263.1 L538.2 261.1 L538.7 259.2 L539.2 257.3 L539.8 255.2 L541.3 253.0 L541.8 251.0 L542.3 249.1 L542.8 247.6 L543.3 246.2 L544.8 244.8 L545.3 243.2 L545.8 241.5 L546.3 239.9 L546.8 238.2 L548.8 236.7 L549.3 235.4 L549.8 234.0 L550.3 232.7 L552.3 231.3 L552.8 230.2 L553.3 229.4 L553.8 228.7 L555.3 228.2 L555.8 227.8 L556.3 227.5 L556.8 227.1 L557.3 226.7 L559.3 226.4 L559.8 226.0 L560.3 225.5 L560.8 225.2 L562.3 224.9 L562.8 224.9 L563.3 224.9 L563.8 225.0 L564.3 224.8 L565.8 224.8 L566.3 225.0 L566.8 225.1 L567.3 225.2 L567.8 225.4 L569.3 225.7 L569.8 226.3 L570.3 226.9 L570.8 227.4 L571.3 227.7 L572.8 228.2 L573.3 228.9 L573.8 229.8 L574.3 230.7 L574.8 231.5 L576.8 232.4 L577.3 233.5 L577.8 234.6 L578.3 235.7 L579.8 237.1 L580.4 238.7 L580.9 240.0 L581.4 241.0 L581.9 241.8 L583.4 242.5 L583.9 243.4 L584.4 244.4 L584.9 245.7 L585.4 247.1 L586.9 248.4 L587.4 249.7 L587.9 250.7 L588.4 251.8 L588.9 253.0 L590.4 254.2 L590.9 255.2 L591.4 256.1 L591.9 257.1 L592.4 258.1 L593.9 259.0 L594.4 259.7 L594.9 260.3 L595.4 260.7 L595.9 261.1 L597.4 261.4 L597.9 261.8 L598.4 261.9 L598.9 261.8 L600.9 261.7 L601.4 261.6 L601.9 261.3 L602.4 260.8 L602.9 260.3 L604.4 260.1 L604.9 260.0 L605.4 259.7 L605.9 259.3 L606.4 258.8 L607.9 258.4 L608.4 258.3 L608.9 258.4 L609.4 258.4 L609.9 258.1 L611.4 257.7 L611.9 257.3 L612.4 256.9 L612.9 256.4 L613.4 255.9 L614.9 255.4 L615.4 254.8 L615.9 254.0 L616.4 253.3 L616.9 252.8 L618.4 252.3 L618.9 251.9 L619.4 251.4 L619.9 250.7 L620.5 250.0 L622.0 249.2 L622.5 248.5 L623.0 248.1 L623.5 247.9 L624.0 247.8 L626.0 247.7 L626.5 247.5 L627.0 247.4 L627.5 247.1 L629.0 246.5 L629.5 246.1 L630.0 245.9 L630.5 245.6 L631.0 245.3 L632.5 245.0 L633.0 244.9 L633.5 244.9 L634.0 244.9 L634.5 245.0 L636.5 245.1 L637.0 245.2 L637.5 245.3 L638.0 245.5 L639.5 246.0 L640.0 246.5 L640.5 246.7 L641.0 246.8 L641.5 246.9 L643.0 247.2 L644.0 247.5 L644.5 248.1 L645.0 248.5 L646.5 248.7 L647.0 249.0 L647.5 249.4 L648.0 249.9 L648.5 250.1 L650.0 250.1 L650.5 249.9 L651.0 249.5 L651.5 249.1 L652.0 248.5 L653.5 248.0 L654.0 247.5 L654.5 247.0 L655.0 246.4 L655.5 246.0 L657.0 245.6 L657.5 245.2 L658.0 244.8 L658.5 244.5 L659.0 244.0 L660.5 243.4 L661.1 242.5 L661.6 241.4 L662.1 240.2 L662.6 239.1 L664.1 238.0 L664.6 236.9 L665.1 236.2 L665.6 235.6 L666.1 234.9 L667.6 234.3 L668.1 233.9 L668.6 233.6 L669.1 233.3 L669.6 233.0 L671.1 232.6 L671.6 232.1 L672.1 231.8 L672.6 231.5 L673.1 231.3 L675.1 231.2 L675.6 231.0 L676.1 230.9 L676.6 230.8 L678.1 230.8 L678.6 230.9 L679.1 230.7 L679.6 230.5 L680.1 230.3 L681.6 229.9 L682.1 229.6 L682.6 229.3 L683.1 229.1 L683.6 229.0 L685.1 229.1 L685.6 229.4 L686.1 229.9 L686.6 230.6 L687.1 231.4 L688.6 232.5 L689.1 233.5 L689.6 234.3 L690.1 235.1 L690.6 235.6 L692.1 236.1 L692.6 236.6 L693.1 237.1 L693.6 237.3 L694.1 237.4 L695.6 237.6 L696.1 238.0 L696.6 238.7 L697.1 239.4 L697.6 240.3 L699.1 241.3 L699.6 242.5 L700.1 243.7 L700.6 244.9 L701.1 246.3 L702.7 247.4 L703.2 248.5 L703.7 249.4 L704.2 250.3 L704.7 251.0 L706.2 251.5 L706.7 252.1 L707.2 253.0 L707.7 254.1 L708.2 255.1 L709.7 256.0 L710.2 256.6 L710.7 257.0 L711.2 257.5 L711.7 257.9 L713.2 258.2 L713.7 258.4 L714.2 258.5 L715.2 258.7 L716.7 259.0 L717.2 259.0 L717.7 259.1 L718.2 259.0 L718.7 258.9 L720.2 258.7 L720.7 258.5 L721.2 258.2 L721.7 257.9 L722.2 257.4 L723.7 256.8 L724.2 255.7 L724.7 254.7 L725.2 253.9 L725.7 253.2 L727.2 252.7 L727.7 252.2 L728.2 251.6 L728.7 250.9 L729.2 250.3 L731.2 249.7 L731.7 248.9 L732.2 248.0 L732.7 246.8 L734.7 245.5 L735.2 244.0 L735.7 242.4 L736.2 240.6 L737.7 238.6 L738.2 236.5 L738.7 234.1 L739.2 231.9 L739.7 229.9 L741.8 228.0 L742.3 226.3 L742.8 224.6 L743.3 223.0 L744.8 221.4 L745.3 219.7 L745.8 217.9 L746.3 216.2 L746.8 214.5 L748.3 212.9 L748.8 211.2 L749.3 209.4 L749.8 207.6 L750.3 205.9 L751.8 204.3 L752.3 202.5 L752.8 200.7 L753.3 198.8 L753.8 197.0 L755.3 195.4 L755.8 193.7 L756.3 192.0 L756.8 190.2 L757.3 188.3 L759.3 186.6 L759.8 184.6 L760.3 182.5 L760.8 180.6 L762.3 179.1 L762.8 177.6 L763.3 176.2 L763.8 174.8 L764.3 173.3 L765.8 171.6 L766.3 170.1 L766.8 168.7 L767.3 167.2 L767.8 165.7 L769.3 164.4 L769.8 163.1 L770.3 161.9 L770.8 161.0 L771.3 160.2 L772.8 159.3 L773.3 158.4 L773.8 157.7 L774.3 157.0 L774.8 156.4 L776.3 155.7 L776.8 154.8 L777.3 153.7 L777.8 152.6 L779.8 151.7 L780.3 150.9 L780.8 150.4 L781.3 149.9 L781.8 149.5 L783.4 148.8 L783.9 148.4 L784.4 148.2 L784.9 148.3 L785.4 148.5 L786.9 148.9 L787.4 149.4 L787.9 149.8 L788.4 150.5 L788.9 151.0 L790.4 151.5 L790.9 151.9 L791.4 152.0 L791.9 152.4 L792.4 153.0 L793.9 153.5 L794.4 154.1 L794.9 154.6 L795.4 155.3 L795.9 156.1 L797.4 156.8 L797.9 157.2 L798.4 157.6 L798.9 157.8 L799.4 157.9 L800.9 157.9 L801.4 157.8 L801.9 157.6 L802.4 157.5 L802.9 157.5 L804.4 157.5 L804.9 157.4 L805.4 157.5 L805.9 157.5 L806.4 157.6 L808.4 157.8 L808.9 158.1 L809.4 158.6 L809.9 158.9 L811.4 159.1 L811.9 159.1 L812.4 159.1 L812.9 159.1 L813.4 159.3 L814.9 159.3 L815.4 159.2 L815.9 159.0 L816.4 158.7 L816.9 158.3 L818.4 157.8 L818.9 157.5 L819.9 156.9 L820.4 156.1 L821.9 155.1 L822.5 154.0 L823.0 153.0 L823.5 151.9 L824.0 151.0 L825.5 150.1 L826.0 149.5 L826.5 149.0 L827.5 148.5 L829.0 147.8 L829.5 147.0 L830.0 145.9 L830.5 144.8 L831.0 143.8 L832.5 142.5 L833.0 141.3 L833.5 140.3 L834.0 139.6 L834.5 138.7 L836.0 137.9 L836.5 137.0 L837.0 136.1 L837.5 135.5 L838.0 135.0 L839.5 134.5 L840.0 133.9 L840.5 133.3 L841.0 132.5 L841.5 132.1 L843.0 131.8 L843.5 131.6 L844.0 131.3 L844.5 130.7 L845.0 129.7 L846.5 128.4 L847.0 127.2 L847.5 126.1 L848.0 125.0 L848.5 123.8 L850.0 122.6 L850.5 121.4 L851.0 120.3 L851.5 119.1 L852.0 117.8 L853.5 116.6 L854.0 115.2 L854.5 113.8 L855.0 112.3 L855.5 110.8 L857.5 109.4 L858.0 108.3 L858.5 107.3 L859.0 106.3 L860.5 105.1 L861.0 103.7 L861.5 102.3 L862.0 100.7 L862.5 99.1 L864.1 97.3 L864.6 96.0 L865.1 94.8 L865.6 93.8 L866.1 92.9 L867.6 92.1 L868.1 91.5 L868.6 91.0 L869.1 90.3 L869.6 89.4 L871.1 88.8 L871.6 88.4 L872.1 88.0 L872.6 87.7 L873.1 87.5 L874.6 87.1 L875.1 86.6 L875.6 86.2 L876.1 85.7 L876.6 85.2 L878.1 84.5 L878.6 83.7 L879.1 82.9 L879.6 81.9 L880.1 81.2 L881.6 81.0 L882.1 81.0 L882.6 81.2 L883.1 81.7 L883.6 82.2 L885.1 82.8 L885.6 83.6 L886.1 84.5 L886.6 85.5 L887.1 86.6 L888.6 87.5 L889.1 88.3 L889.6 89.1 L890.1 89.9 L890.6 90.7 L892.1 91.8 L892.6 93.2 L893.1 94.7 L893.6 96.1 L894.1 97.6 L895.6 99.3 L896.1 101.1 L896.6 102.7 L897.1 104.2 L897.6 105.6 L899.1 106.9 L899.6 108.1 L900.1 109.2 L901.1 110.2 L902.6 111.2 L903.1 112.2 L903.7 113.1 L904.2 114.1 L904.7 115.2 L906.2 116.4 L906.7 117.6 L907.2 118.9 L907.7 120.3 L908.2 121.7 L909.7 123.2 L910.2 125.1 L910.7 127.1 L911.2 129.2 L911.7 131.3 L913.2 133.2 L913.7 135.1 L914.7 136.8 L915.2 138.6 L916.7 140.5 L917.2 142.5 L918.2 144.2 L918.7 145.6 L920.2 146.8 L920.7 148.0 L921.2 149.1 L921.7 150.1 L922.2 151.0 L923.7 151.7 L924.2 152.5 L924.7 153.2 L925.2 153.9 L925.7 154.6 L927.7 155.1 L928.2 155.7 L928.7 156.1 L929.2 156.2 L930.7 155.9 L931.2 155.4 L931.7 154.7 L932.2 154.0 L932.7 153.4 L934.2 152.4 L934.7 151.6 L935.2 151.0 L935.7 150.7 L936.2 150.5 L937.7 150.5 L938.2 150.6 L938.7 150.7 L939.2 150.8 L939.7 150.9 L941.7 151.0 L942.2 150.7 L942.7 150.3 L943.2 149.9 L944.8 149.2 L945.3 148.3 L945.8 147.2 L946.3 146.1 L946.8 144.8 L948.3 143.2 L948.8 141.5 L949.3 139.7 L949.8 138.2 L950.3 136.9 L951.8 135.9 L952.3 135.1 L952.8 134.2 L953.3 133.4 L953.8 132.1 L955.3 131.0 L955.8 129.9 L956.3 128.9 L956.8 127.9 L957.3 126.9 L958.8 125.9 L959.3 125.2 L959.8 124.6 L960.3 123.9 L960.8 123.1 L962.3 122.7 L962.8 122.9 L963.3 123.6 L963.8 124.8 L964.3 126.2 L965.8 127.9 L966.3 129.2 L966.8 130.3 L967.3 131.3 L967.8 132.3 L969.3 133.4 L969.8 134.6 L970.3 136.1 L970.8 137.9 L972.8 139.7 L973.3 141.1 L973.8 142.4 L974.3 143.4 L974.8 144.4 L976.3 145.2 L976.8 145.8 L977.3 146.6 L977.8 147.8 L978.3 148.9 L979.8 150.4 L980.3 152.1 L980.8 153.7 L981.3 155.7 L981.8 157.7 L983.3 159.3 L983.8 162.0 L984.4 164.2 L984.9 166.3 L985.4 168.2 L986.9 170.3 L987.4 172.3 L987.9 174.2 L988.4 175.9 L988.9 177.5 L990.9 179.4 L991.4 181.2 L991.9 183.0 L992.4 184.8 L993.9 186.6 L994.4 188.4 L994.9 190.1 L995.4 191.7 L995.9 193.2 L997.4 194.7 L997.9 195.9 L998.4 197.0 L998.9 197.5 L999.4 197.9 L1000.9 197.9 L1001.4 198.0 L1001.9 198.0 L1002.9 198.6 L1004.4 199.3 L1004.9 199.8 L1005.4 200.3 L1005.9 200.5 L1006.4 200.8 L1007.9 200.7 L1008.4 200.3 L1008.9 199.9 L1009.4 199.7 L1011.4 199.8 L1011.9 199.9 L1012.4 200.1 L1012.9 200.5 L1013.4 201.4 L1014.9 202.0 L1015.4 202.5 L1015.9 203.2 L1016.4 203.6 L1016.9 204.0 L1018.4 203.9 L1018.9 203.5 L1019.4 202.9 L1019.9 202.7 L1020.4 201.7 L1021.9 201.4 L1022.4 201.4 L1022.9 201.8 L1023.4 201.8 L1023.9 201.5 L1025.5 201.0 L1026.0 201.2 L1026.5 201.4 L1027.0 201.6 L1027.5 201.8 L1029.0 202.0 L1029.5 201.7 L1030.0 201.4 L1030.5 201.0 L1031.0 200.6 L1032.5 200.2 L1033.0 199.7 L1033.5 199.1 L1034.0 198.7 L1034.5 198.7 L1036.0 198.6 L1036.5 198.4 L1037.0 198.1 L1037.5 197.5 L1038.0 197.0 L1040.0 196.3 L1040.5 195.6 L1041.0 195.2 L1041.5 194.8 L1043.0 194.3 L1043.5 193.8 L1044.0 193.3 L1044.5 193.1 L1045.0 192.7 L1046.5 192.5 L1047.0 192.2 L1047.5 192.1 L1048.0 191.8 L1048.5 191.5 L1050.0 191.0 L1050.5 190.7 L1051.0 190.3 L1051.5 189.8 L1052.0 189.2 L1053.5 188.0 L1054.0 187.0 L1054.5 185.9 L1055.0 184.7 L1055.5 183.5 L1057.0 182.3 L1057.5 180.9 L1058.0 179.3 L1058.5 177.7 L1059.0 176.2 L1060.5 174.9 L1061.0 173.5 L1061.5 171.5 L1062.0 169.4 L1062.5 167.4 L1064.0 165.2 L1064.5 163.1 L1065.1 161.4 L1065.6 159.8 L1066.1 158.4 L1067.6 157.0 L1068.1 155.8 L1068.6 154.9 L1069.1 153.9 L1069.6 153.0 L1071.1 151.8 L1071.6 150.6 L1072.1 149.3 L1072.6 148.0 L1073.1 146.6 L1074.6 144.8 L1075.1 142.7 L1075.6 140.6 L1076.1 138.5 L1076.6 136.6 L1078.1 134.7 L1078.6 133.0 L1079.1 131.3 L1079.6 129.1 L1080.1 126.7 L1081.6 123.8 L1082.1 120.8 L1082.6 118.0 L1083.6 115.5 L1085.1 113.1 L1085.6 110.7 L1086.1 108.2 L1086.6 105.6 L1087.1 103.3 L1088.6 101.1 L1089.1 99.7 L1089.6 98.5 L1090.1 97.3 L1090.6 95.8 L1092.1 94.3 L1092.6 92.9 L1093.1 91.5 L1093.6 90.0" fill="none" stroke="#008000" stroke-width="2.08" stroke-linejoin="round"/>
<path d="M122.2 433.8 L123.7 433.2 L124.2 432.7 L124.7 432.1 L125.2 432.1 L125.7 431.1 L127.7 431.2 L128.2 431.8 L128.7 432.4 L129.2 432.7 L130.7 432.8 L131.2 432.8 L131.7 432.9 L132.2 432.9 L132.7 432.8 L134.2 433.4 L134.7 434.1 L135.2 435.1 L135.8 436.2 L136.3 437.5 L137.8 438.1 L138.3 438.6 L138.8 439.1 L139.3 439.5 L139.8 440.2 L141.3 440.5 L141.8 440.9 L142.3 441.2 L142.8 441.4 L143.3 441.1 L144.8 441.2 L145.3 440.2 L145.8 438.8 L146.3 437.7 L146.8 437.0 L148.3 436.6 L148.8 436.1 L149.3 435.7 L149.8 435.4 L150.3 434.8 L151.8 434.1 L152.3 433.5 L152.8 433.0 L153.3 432.9 L153.8 432.8 L155.3 433.2 L155.8 433.5 L156.3 433.8 L156.8 433.0 L157.3 431.7 L158.8 430.6 L159.3 429.5 L159.8 428.5 L160.3 427.5 L160.8 426.5 L162.3 425.7 L162.8 425.0 L163.3 424.6 L163.8 424.3 L164.3 424.0 L165.8 423.5 L166.3 423.4 L166.8 423.0 L167.8 422.5 L169.3 422.1 L169.8 421.4 L170.3 420.4 L170.8 418.9 L171.3 416.6 L172.8 413.9 L173.3 411.4 L173.8 408.9 L174.3 406.6 L174.8 405.5 L176.4 405.2 L176.9 404.8 L177.4 404.4 L177.9 404.1 L178.4 403.7 L179.9 403.7 L180.4 403.7 L180.9 403.7 L181.4 403.5 L183.4 402.8 L183.9 402.0 L184.4 400.9 L184.9 399.6 L186.9 398.4 L187.4 396.9 L187.9 395.3 L188.4 393.6 L188.9 391.9 L190.4 390.1 L190.9 388.7 L191.4 387.5 L191.9 386.3 L192.4 385.3 L194.4 383.8 L194.9 382.1 L195.4 380.2 L195.9 378.5 L197.4 376.8 L197.9 375.3 L198.4 374.1 L198.9 373.0 L199.4 372.0 L200.9 371.2 L201.4 370.2 L201.9 369.2 L202.4 368.4 L202.9 367.8 L204.4 367.2 L204.9 366.5 L205.4 366.1 L205.9 365.8 L206.4 365.5 L208.4 365.6 L208.9 366.0 L209.4 366.4 L209.9 366.9 L211.4 367.5 L211.9 368.1 L212.4 369.0 L212.9 370.0 L213.4 371.0 L214.9 372.4 L215.4 373.5 L215.9 374.8 L216.5 376.1 L217.0 377.4 L218.5 378.1 L219.0 378.4 L219.5 378.9 L220.0 379.3 L220.5 379.4 L222.0 379.5 L222.5 379.6 L223.0 379.8 L223.5 380.2 L224.0 380.7 L225.5 381.0 L226.0 381.2 L226.5 381.3 L227.0 381.3 L227.5 381.2 L229.0 380.4 L229.5 379.5 L230.0 378.8 L230.5 378.2 L232.5 377.4 L233.0 376.3 L233.5 375.6 L234.0 374.6 L234.5 373.3 L236.0 371.5 L236.5 370.0 L237.0 368.5 L237.5 366.9 L238.0 365.0 L239.5 363.2 L240.0 361.5 L240.5 359.7 L241.0 357.7 L241.5 355.4 L243.0 353.3 L243.5 351.4 L244.0 349.7 L244.5 347.9 L245.0 346.3 L246.5 344.9 L247.0 343.7 L247.5 342.3 L248.0 340.7 L248.5 339.1 L250.0 337.3 L250.5 335.6 L251.0 334.0 L251.5 332.4 L252.0 330.9 L253.5 329.9 L254.0 328.8 L254.5 327.7 L255.0 326.6 L255.5 325.9 L257.1 325.2 L257.6 324.6 L258.1 324.1 L258.6 323.8 L259.1 323.9 L261.1 324.1 L261.6 324.3 L262.1 324.5 L262.6 324.8 L264.1 324.7 L264.6 324.3 L265.1 324.0 L265.6 323.5 L266.1 322.9 L267.6 322.7 L268.1 322.7 L268.6 322.5 L269.1 322.1 L269.6 321.6 L271.1 321.1 L271.6 320.4 L272.1 319.8 L272.6 319.2 L273.1 318.7 L274.6 318.1 L275.1 317.6 L275.6 317.0 L276.1 316.2 L276.6 315.0 L278.6 313.6 L279.1 312.0 L279.6 310.2 L280.1 308.3 L281.6 306.4 L282.1 304.7 L282.6 303.1 L283.1 301.7 L283.6 300.7 L285.1 299.9 L285.6 299.0 L286.1 297.8 L286.6 296.5 L287.1 294.9 L288.6 293.2 L289.1 291.5 L289.6 289.7 L290.1 287.9 L290.6 286.2 L292.1 284.6 L292.6 282.8 L293.1 280.7 L293.6 278.8 L294.1 277.1 L295.6 275.9 L296.1 275.0 L296.6 274.0 L297.1 273.0 L297.7 271.8 L299.2 270.3 L299.7 268.6 L300.2 266.6 L300.7 264.7 L301.2 262.9 L302.7 261.0 L303.2 258.9 L303.7 257.2 L304.2 255.8 L304.7 254.8 L306.2 253.8 L306.7 252.7 L307.2 251.5 L307.7 250.4 L308.2 249.2 L310.2 248.2 L310.7 247.6 L311.2 247.3 L311.7 247.5 L313.2 247.5 L313.7 247.5 L314.2 247.3 L314.7 247.3 L315.2 247.4 L316.7 247.7 L317.2 248.3 L317.7 249.1 L318.2 250.3 L318.7 251.4 L320.2 252.6 L320.7 254.2 L321.2 255.8 L321.7 257.5 L322.2 259.4 L323.7 261.5 L324.2 263.8 L324.7 266.2 L325.2 268.4 L325.7 270.6 L327.2 273.2 L327.7 275.7 L328.2 278.1 L328.7 280.5 L329.2 281.6 L330.7 283.1 L331.2 284.4 L331.7 285.2 L332.2 285.6 L332.7 285.9 L334.2 286.0 L334.7 286.0 L335.2 285.9 L335.7 285.5 L336.2 284.9 L337.8 284.0 L338.3 282.8 L338.8 281.1 L339.3 279.3 L339.8 277.7 L341.3 275.9 L341.8 273.9 L342.3 272.0 L342.8 270.3 L343.3 268.9 L344.8 267.0 L345.3 265.1 L345.8 263.0 L346.3 261.0 L346.8 259.5 L348.3 258.1 L348.8 256.8 L349.3 255.9 L350.3 255.4 L351.8 255.0 L352.3 255.1 L352.8 255.6 L353.3 256.4 L353.8 257.0 L355.3 257.4 L355.8 257.6 L356.3 257.7 L356.8 258.0 L357.3 258.1 L358.8 257.5 L359.3 256.7 L359.8 255.3 L360.3 254.0 L360.8 252.8 L362.3 251.6 L362.8 250.7 L363.3 249.5 L363.8 248.2 L365.8 246.4 L366.3 244.5 L366.8 242.4 L367.3 240.1 L369.3 237.9 L369.8 235.9 L370.3 234.2 L370.8 232.4 L371.3 231.1 L372.8 229.3 L373.3 227.7 L373.8 226.7 L374.3 226.0 L374.8 225.5 L376.8 225.5 L377.3 226.1 L377.8 227.1 L378.4 228.6 L379.9 230.9 L380.4 233.4 L380.9 235.8 L381.4 238.2 L381.9 240.5 L383.4 242.6 L383.9 244.3 L384.4 246.4 L384.9 248.4 L385.4 250.5 L386.9 252.4 L387.4 254.2 L387.9 255.9 L388.4 257.5 L388.9 259.1 L390.4 260.7 L390.9 262.6 L391.4 264.7 L391.9 266.7 L392.4 268.6 L394.4 270.7 L394.9 272.3 L395.4 273.6 L395.9 274.4 L397.4 274.2 L397.9 273.9 L398.4 273.6 L398.9 273.3 L399.4 272.1 L400.9 271.6 L401.4 271.7 L401.9 272.7 L402.4 273.7 L402.9 274.4 L404.4 274.5 L404.9 274.6 L405.4 274.3 L405.9 273.5 L406.4 272.4 L407.9 271.0 L408.4 268.9 L408.9 267.0 L409.4 265.2 L409.9 263.6 L411.4 261.3 L411.9 258.5 L412.4 255.5 L412.9 252.5 L413.4 250.1 L414.9 248.3 L415.4 246.1 L415.9 243.8 L416.4 240.9 L416.9 238.2 L418.5 235.3 L419.0 232.3 L419.5 229.1 L420.0 226.3 L422.0 223.9 L422.5 222.1 L423.0 220.2 L423.5 219.0 L424.0 218.6 L425.5 219.1 L426.0 219.8 L426.5 220.7 L427.0 221.7 L427.5 222.6 L429.0 223.6 L429.5 225.3 L430.0 227.3 L430.5 229.7 L431.0 232.4 L432.5 235.0 L433.0 237.9 L433.5 240.9 L434.0 243.9 L434.5 247.0 L436.0 250.4 L436.5 253.2 L437.0 255.8 L437.5 258.5 L438.0 261.3 L439.5 263.4 L440.0 265.6 L440.5 267.8 L441.0 269.5 L441.5 270.3 L443.5 270.6 L444.0 270.9 L444.5 271.2 L445.0 271.4 L446.5 271.3 L447.0 270.9 L447.5 270.8 L448.0 271.1 L448.5 271.5 L450.0 272.7 L450.5 274.0 L451.0 275.3 L451.5 276.8 L452.0 278.5 L454.0 280.0 L454.5 281.1 L455.0 282.1 L455.5 282.6 L457.0 282.6 L457.5 282.0 L458.0 282.0 L458.5 282.2 L459.1 282.7 L461.1 283.2 L461.6 283.9 L462.1 284.6 L462.6 285.2 L464.1 285.7 L464.6 285.7 L465.1 286.1 L465.6 286.8 L466.1 287.4 L467.6 286.9 L468.1 286.2 L468.6 284.2 L469.1 281.9 L469.6 279.5 L471.1 276.6 L471.6 273.5 L472.1 270.7 L472.6 268.6 L473.1 266.8 L474.6 265.8 L475.1 264.9 L475.6 264.3 L476.1 263.7 L476.6 263.0 L478.1 262.5 L478.6 261.9 L479.1 261.3 L479.6 260.6 L480.1 259.6 L481.6 258.3 L482.1 257.3 L482.6 256.3 L483.1 255.0 L483.6 253.6 L485.1 253.0 L485.6 252.9 L486.1 252.9 L486.6 253.1 L487.1 253.7 L488.6 254.9 L489.1 256.5 L489.6 258.3 L490.1 260.3 L490.6 262.2 L492.6 263.5 L493.1 264.4 L493.6 265.1 L494.1 265.7 L495.6 265.8 L496.1 265.8 L496.6 266.9 L497.1 268.3 L497.6 269.9 L499.1 271.8 L499.7 274.0 L500.2 276.5 L500.7 279.2 L501.2 281.8 L502.7 284.4 L503.2 286.4 L503.7 288.0 L504.2 289.7 L504.7 291.6 L506.2 292.7 L506.7 293.0 L507.2 292.5 L507.7 292.1 L508.2 292.0 L509.7 292.6 L510.2 293.7 L510.7 295.0 L511.2 296.5 L511.7 297.9 L513.2 299.0 L513.7 300.3 L514.2 300.7 L514.7 301.2 L515.2 300.8 L516.7 299.7 L517.2 298.4 L517.7 296.7 L518.2 294.5 L518.7 291.9 L520.2 289.3 L520.7 287.1 L521.2 285.1 L521.7 283.1 L522.2 280.8 L523.7 278.6 L524.2 276.6 L524.7 274.8 L525.2 272.8 L525.7 270.2 L527.2 267.5 L527.7 264.7 L528.2 261.9 L528.7 259.1 L529.2 256.4 L530.7 254.3 L531.2 251.8 L531.7 248.9 L532.7 245.8 L534.2 243.6 L534.7 242.0 L535.2 240.1 L535.7 238.1 L536.2 236.0 L537.7 234.3 L538.2 232.9 L538.7 231.4 L539.2 229.5 L539.8 227.3 L541.3 225.3 L541.8 223.3 L542.3 221.5 L542.8 220.3 L543.3 219.6 L544.8 219.4 L545.3 218.8 L545.8 218.3 L546.3 217.8 L546.8 217.3 L548.8 217.0 L549.3 216.5 L549.8 216.2 L550.3 216.5 L552.3 216.7 L552.8 216.7 L553.3 216.7 L553.8 217.2 L555.3 218.3 L555.8 219.6 L556.3 220.8 L556.8 221.3 L557.3 222.1 L559.3 223.3 L559.8 224.8 L560.3 225.8 L560.8 227.0 L562.3 228.3 L562.8 229.4 L563.3 230.2 L563.8 230.6 L564.3 230.8 L565.8 231.4 L566.3 232.2 L566.8 233.0 L567.3 233.5 L567.8 234.3 L569.3 235.2 L569.8 236.1 L570.3 237.2 L570.8 238.1 L571.3 238.7 L572.8 239.1 L573.3 239.6 L573.8 239.9 L574.3 240.6 L574.8 241.6 L576.8 242.7 L577.3 243.6 L577.8 244.5 L578.3 245.7 L579.8 247.2 L580.4 249.1 L580.9 250.6 L581.4 251.9 L581.9 253.0 L583.4 254.2 L583.9 255.4 L584.4 256.7 L584.9 258.4 L585.4 260.7 L586.9 262.5 L587.4 264.2 L587.9 265.3 L588.4 266.5 L588.9 267.9 L590.4 269.6 L590.9 271.2 L591.4 272.7 L591.9 274.2 L592.4 275.5 L593.9 276.3 L594.4 276.8 L594.9 276.9 L595.4 276.8 L595.9 276.4 L597.4 275.6 L597.9 274.5 L598.4 273.1 L598.9 271.7 L600.9 270.4 L601.4 269.0 L601.9 267.3 L602.4 264.8 L602.9 262.3 L604.4 259.6 L604.9 257.5 L605.4 255.3 L605.9 253.2 L606.4 251.1 L607.9 248.9 L608.4 247.0 L608.9 245.7 L609.4 244.0 L609.9 242.0 L611.4 239.9 L611.9 238.2 L612.4 237.0 L612.9 235.9 L613.4 235.0 L614.9 234.4 L615.4 233.9 L615.9 233.5 L616.4 233.5 L616.9 233.8 L618.4 234.3 L618.9 234.9 L619.4 235.5 L619.9 236.6 L620.5 237.7 L622.0 238.7 L622.5 239.6 L623.0 240.9 L623.5 242.5 L624.0 244.4 L626.0 246.5 L626.5 248.0 L627.0 249.1 L627.5 250.3 L629.0 251.1 L629.5 252.3 L630.0 253.5 L630.5 254.3 L631.0 254.8 L632.5 255.0 L633.0 255.4 L633.5 255.9 L634.0 256.3 L634.5 256.5 L636.5 256.4 L637.0 256.1 L637.5 255.8 L638.0 255.6 L639.5 255.5 L640.0 255.2 L640.5 254.7 L641.0 254.0 L641.5 252.9 L643.0 251.9 L644.0 250.7 L644.5 249.6 L645.0 249.0 L646.5 248.3 L647.0 247.8 L647.5 247.8 L648.0 247.4 L648.5 246.6 L650.0 245.8 L650.5 245.0 L651.0 244.0 L651.5 242.7 L652.0 241.1 L653.5 239.7 L654.0 238.5 L654.5 237.6 L655.0 236.8 L655.5 236.2 L657.0 235.6 L657.5 234.8 L658.0 234.4 L658.5 234.2 L659.0 234.1 L660.5 233.8 L661.1 233.0 L661.6 232.1 L662.1 230.9 L662.6 229.2 L664.1 227.6 L664.6 226.1 L665.1 224.7 L665.6 223.7 L666.1 223.3 L667.6 222.8 L668.1 222.8 L668.6 223.2 L669.1 223.9 L669.6 224.9 L671.1 225.5 L671.6 225.7 L672.1 226.0 L672.6 226.2 L673.1 226.4 L675.1 226.8 L675.6 227.2 L676.1 227.5 L676.6 227.4 L678.1 227.6 L678.6 227.9 L679.1 228.4 L679.6 229.0 L680.1 229.7 L681.6 230.6 L682.1 231.6 L682.6 232.6 L683.1 233.5 L683.6 234.4 L685.1 234.9 L685.6 235.9 L686.1 237.0 L686.6 238.0 L687.1 239.0 L688.6 240.1 L689.1 241.5 L689.6 242.9 L690.1 244.2 L690.6 245.0 L692.1 245.8 L692.6 246.5 L693.1 246.9 L693.6 247.1 L694.1 247.4 L695.6 247.6 L696.1 248.1 L696.6 248.9 L697.1 249.9 L697.6 250.9 L699.1 252.0 L699.6 253.4 L700.1 254.8 L700.6 256.3 L701.1 258.2 L702.7 259.8 L703.2 261.0 L703.7 261.9 L704.2 262.5 L704.7 263.0 L706.2 262.9 L706.7 262.7 L707.2 263.1 L707.7 264.0 L708.2 265.3 L709.7 266.3 L710.2 266.6 L710.7 267.2 L711.2 267.8 L711.7 268.4 L713.2 268.8 L713.7 268.6 L714.2 268.2 L715.2 267.6 L716.7 267.1 L717.2 266.1 L717.7 264.8 L718.2 263.3 L718.7 261.5 L720.2 259.2 L720.7 257.3 L721.2 255.4 L721.7 253.8 L722.2 252.3 L723.7 250.7 L724.2 248.6 L724.7 246.7 L725.2 244.7 L725.7 242.5 L727.2 240.0 L727.7 238.2 L728.2 236.6 L728.7 234.7 L729.2 232.9 L731.2 231.0 L731.7 229.1 L732.2 227.3 L732.7 225.5 L734.7 223.3 L735.2 221.0 L735.7 218.7 L736.2 216.4 L737.7 213.9 L738.2 211.4 L738.7 209.0 L739.2 206.6 L739.7 204.3 L741.8 202.2 L742.3 200.2 L742.8 198.5 L743.3 197.4 L744.8 196.1 L745.3 194.8 L745.8 193.3 L746.3 192.4 L746.8 190.8 L748.3 189.2 L748.8 187.7 L749.3 186.0 L749.8 184.2 L750.3 182.7 L751.8 181.2 L752.3 179.5 L752.8 178.1 L753.3 176.7 L753.8 175.3 L755.3 174.4 L755.8 173.6 L756.3 172.5 L756.8 171.4 L757.3 170.1 L759.3 168.8 L759.8 166.9 L760.3 164.8 L760.8 162.7 L762.3 160.8 L762.8 159.1 L763.3 157.6 L763.8 156.2 L764.3 154.2 L765.8 152.5 L766.3 151.0 L766.8 149.7 L767.3 148.4 L767.8 147.2 L769.3 146.2 L769.8 145.0 L770.3 144.4 L770.8 144.0 L771.3 143.7 L772.8 143.3 L773.3 142.5 L773.8 141.8 L774.3 141.5 L774.8 141.4 L776.3 141.2 L776.8 140.8 L777.3 140.4 L777.8 140.4 L779.8 140.7 L780.3 141.0 L780.8 141.7 L781.3 142.2 L781.8 142.8 L783.4 143.5 L783.9 144.4 L784.4 145.4 L784.9 146.9 L785.4 148.7 L786.9 150.7 L787.4 152.5 L787.9 154.6 L788.4 156.6 L788.9 158.1 L790.4 159.2 L790.9 160.5 L791.4 161.6 L791.9 162.9 L792.4 164.4 L793.9 165.7 L794.4 167.0 L794.9 168.5 L795.4 170.3 L795.9 171.9 L797.4 172.8 L797.9 173.4 L798.4 173.4 L798.9 173.3 L799.4 172.9 L800.9 172.3 L801.4 171.2 L801.9 169.8 L802.4 168.2 L802.9 166.3 L804.4 164.3 L804.9 162.3 L805.4 160.3 L805.9 158.5 L806.4 157.1 L808.4 156.3 L808.9 155.7 L809.4 155.6 L809.9 154.9 L811.4 153.7 L811.9 152.5 L812.4 151.2 L812.9 149.8 L813.4 148.3 L814.9 146.8 L815.4 145.6 L815.9 144.6 L816.4 143.9 L816.9 143.3 L818.4 142.7 L818.9 142.6 L819.9 142.5 L820.4 142.4 L821.9 142.0 L822.5 141.8 L823.0 141.6 L823.5 141.6 L824.0 141.7 L825.5 141.8 L826.0 141.8 L826.5 141.7 L827.5 141.3 L829.0 140.0 L829.5 139.0 L830.0 138.1 L830.5 137.2 L831.0 136.3 L832.5 135.1 L833.0 134.3 L833.5 133.8 L834.0 133.6 L834.5 132.8 L836.0 131.8 L836.5 130.7 L837.0 129.5 L837.5 128.4 L838.0 127.4 L839.5 126.7 L840.0 125.8 L840.5 124.8 L841.0 123.5 L841.5 122.5 L843.0 122.0 L843.5 121.4 L844.0 120.9 L844.5 119.6 L845.0 118.1 L846.5 116.8 L847.0 115.4 L847.5 114.1 L848.0 112.8 L848.5 111.3 L850.0 110.0 L850.5 108.6 L851.0 106.7 L851.5 104.6 L852.0 102.9 L853.5 101.3 L854.0 99.8 L854.5 98.0 L855.0 96.2 L855.5 94.2 L857.5 92.1 L858.0 90.7 L858.5 89.9 L859.0 89.1 L860.5 87.6 L861.0 85.5 L861.5 83.2 L862.0 80.6 L862.5 78.5 L864.1 76.6 L864.6 75.2 L865.1 74.1 L865.6 73.5 L866.1 73.0 L867.6 72.8 L868.1 73.0 L868.6 73.5 L869.1 74.0 L869.6 74.2 L871.1 74.8 L871.6 75.4 L872.1 76.3 L872.6 77.4 L873.1 78.8 L874.6 80.0 L875.1 81.0 L875.6 81.6 L876.1 81.5 L876.6 81.4 L878.1 81.4 L878.6 81.9 L879.1 82.5 L879.6 83.2 L880.1 84.0 L881.6 85.4 L882.1 86.8 L882.6 88.3 L883.1 89.9 L883.6 91.4 L885.1 92.9 L885.6 94.2 L886.1 95.5 L886.6 97.1 L887.1 98.9 L888.6 100.3 L889.1 101.2 L889.6 102.0 L890.1 102.4 L890.6 102.6 L892.1 103.6 L892.6 105.4 L893.1 107.8 L893.6 110.7 L894.1 113.8 L895.6 117.2 L896.1 120.3 L896.6 122.8 L897.1 125.1 L897.6 127.2 L899.1 128.5 L899.6 129.4 L900.1 130.1 L901.1 130.5 L902.6 130.9 L903.1 131.4 L903.7 132.0 L904.2 132.7 L904.7 133.3 L906.2 133.9 L906.7 135.0 L907.2 136.6 L907.7 138.6 L908.2 140.9 L909.7 143.8 L910.2 146.6 L910.7 148.7 L911.2 150.7 L911.7 151.8 L913.2 152.5 L913.7 153.0 L914.7 153.3 L915.2 154.4 L916.7 156.0 L917.2 157.8 L918.2 159.8 L918.7 161.7 L920.2 163.6 L920.7 165.5 L921.2 167.3 L921.7 168.8 L922.2 169.9 L923.7 170.7 L924.2 171.6 L924.7 172.5 L925.2 172.8 L925.7 172.7 L927.7 171.7 L928.2 170.4 L928.7 168.4 L929.2 165.9 L930.7 163.0 L931.2 160.0 L931.7 157.6 L932.2 155.6 L932.7 153.8 L934.2 151.5 L934.7 148.8 L935.2 146.0 L935.7 143.6 L936.2 141.2 L937.7 139.4 L938.2 137.6 L938.7 135.9 L939.2 134.4 L939.7 133.0 L941.7 132.0 L942.2 130.8 L942.7 129.0 L943.2 127.3 L944.8 125.5 L945.3 123.8 L945.8 122.7 L946.3 121.8 L946.8 121.2 L948.3 120.4 L948.8 119.9 L949.3 119.3 L949.8 118.7 L950.3 118.1 L951.8 118.0 L952.3 118.7 L952.8 119.7 L953.3 120.7 L953.8 120.7 L955.3 120.7 L955.8 120.5 L956.3 120.2 L956.8 119.9 L957.3 119.3 L958.8 118.9 L959.3 118.3 L959.8 118.3 L960.3 118.8 L960.8 118.9 L962.3 119.9 L962.8 121.9 L963.3 124.5 L963.8 127.8 L964.3 131.3 L965.8 135.5 L966.3 138.6 L966.8 141.2 L967.3 143.9 L967.8 146.4 L969.3 148.8 L969.8 150.4 L970.3 152.5 L970.8 155.0 L972.8 158.6 L973.3 161.6 L973.8 164.4 L974.3 166.7 L974.8 168.9 L976.3 171.1 L976.8 172.7 L977.3 174.9 L977.8 177.2 L978.3 178.9 L979.8 181.9 L980.3 184.3 L980.8 185.6 L981.3 186.9 L981.8 187.5 L983.3 187.4 L983.8 188.6 L984.4 189.8 L984.9 191.4 L985.4 192.6 L986.9 194.2 L987.4 195.8 L987.9 197.9 L988.4 199.4 L988.9 200.0 L990.9 200.2 L991.4 200.8 L991.9 201.6 L992.4 203.0 L993.9 204.2 L994.4 205.7 L994.9 207.4 L995.4 208.5 L995.9 209.2 L997.4 210.4 L997.9 210.0 L998.4 209.6 L998.9 209.4 L999.4 209.0 L1000.9 208.2 L1001.4 208.7 L1001.9 207.5 L1002.9 207.4 L1004.4 207.3 L1004.9 207.1 L1005.4 206.3 L1005.9 205.1 L1006.4 203.7 L1007.9 202.1 L1008.4 200.5 L1008.9 199.6 L1009.4 198.6 L1011.4 197.9 L1011.9 196.8 L1012.4 196.0 L1012.9 195.3 L1013.4 195.3 L1014.9 195.5 L1015.4 195.8 L1015.9 196.1 L1016.4 197.1 L1016.9 198.4 L1018.4 198.4 L1018.9 197.9 L1019.4 197.6 L1019.9 196.7 L1020.4 195.9 L1021.9 195.4 L1022.4 195.6 L1022.9 196.5 L1023.4 197.3 L1023.9 197.8 L1025.5 198.4 L1026.0 200.3 L1026.5 202.3 L1027.0 203.6 L1027.5 205.0 L1029.0 206.1 L1029.5 206.7 L1030.0 206.9 L1030.5 206.6 L1031.0 205.9 L1032.5 205.0 L1033.0 203.7 L1033.5 202.1 L1034.0 200.4 L1034.5 199.0 L1036.0 198.9 L1036.5 198.8 L1037.0 198.6 L1037.5 198.4 L1038.0 198.1 L1040.0 197.2 L1040.5 195.7 L1041.0 193.9 L1041.5 192.3 L1043.0 190.8 L1043.5 189.2 L1044.0 186.3 L1044.5 183.9 L1045.0 181.9 L1046.5 180.0 L1047.0 178.2 L1047.5 177.4 L1048.0 176.8 L1048.5 176.4 L1050.0 176.2 L1050.5 176.3 L1051.0 177.0 L1051.5 177.6 L1052.0 178.0 L1053.5 177.1 L1054.0 175.1 L1054.5 172.9 L1055.0 170.7 L1055.5 168.6 L1057.0 166.5 L1057.5 164.7 L1058.0 163.0 L1058.5 161.4 L1059.0 160.1 L1060.5 159.0 L1061.0 157.8 L1061.5 156.6 L1062.0 155.0 L1062.5 152.8 L1064.0 150.4 L1064.5 147.9 L1065.1 145.3 L1065.6 142.8 L1066.1 140.3 L1067.6 137.8 L1068.1 135.4 L1068.6 132.7 L1069.1 130.3 L1069.6 128.0 L1071.1 126.5 L1071.6 126.0 L1072.1 125.8 L1072.6 125.4 L1073.1 124.6 L1074.6 123.2 L1075.1 120.7 L1075.6 118.2 L1076.1 115.6 L1076.6 113.2 L1078.1 110.4 L1078.6 108.1 L1079.1 106.1 L1079.6 103.3 L1080.1 100.6 L1081.6 97.1 L1082.1 93.8 L1082.6 90.7 L1083.6 88.1 L1085.1 85.9 L1085.6 83.6 L1086.1 81.0 L1086.6 78.6 L1087.1 76.3 L1088.6 74.3 L1089.1 72.8 L1089.6 71.0 L1090.1 68.8 L1090.6 66.3 L1092.1 63.9 L1092.6 62.6 L1093.1 62.2 L1093.6 61.7" fill="none" stroke="#ff0000" stroke-width="2.08" stroke-linejoin="round"/>
<path d="M250.5 396.6 L251.0 396.0 L251.5 395.4 L252.0 394.9 L253.5 394.4 L254.0 393.8 L254.5 393.2 L255.0 392.7 L255.5 392.1 L257.1 391.5 L257.6 390.9 L258.1 390.3 L258.6 389.7 L259.1 389.2 L261.1 388.6 L261.6 388.1 L262.1 387.6 L262.6 387.1 L264.1 386.6 L264.6 386.1 L265.1 385.6 L265.6 385.0 L266.1 384.3 L267.6 383.7 L268.1 383.2 L268.6 382.7 L269.1 382.1 L269.6 381.6 L271.1 381.0 L271.6 380.4 L272.1 379.9 L272.6 379.2 L273.1 378.5 L274.6 377.8 L275.1 377.1 L275.6 376.4 L276.1 375.7 L276.6 375.0 L278.6 374.3 L279.1 373.5 L279.6 372.7 L280.1 371.9 L281.6 371.1 L282.1 370.2 L282.6 369.3 L283.1 368.5 L283.6 367.7 L285.1 366.9 L285.6 366.2 L286.1 365.4 L286.6 364.6 L287.1 363.8 L288.6 363.0 L289.1 362.3 L289.6 361.5 L290.1 360.7 L290.6 360.0 L292.1 359.2 L292.6 358.4 L293.1 357.6 L293.6 356.7 L294.1 355.9 L295.6 355.0 L296.1 354.2 L296.6 353.4 L297.1 352.6 L297.7 351.7 L299.2 350.7 L299.7 349.7 L300.2 348.5 L300.7 347.4 L301.2 346.4 L302.7 345.3 L303.2 344.4 L303.7 343.6 L304.2 342.8 L304.7 342.0 L306.2 341.2 L306.7 340.4 L307.2 339.6 L307.7 338.8 L308.2 338.0 L310.2 337.2 L310.7 336.3 L311.2 335.5 L311.7 334.7 L313.2 333.9 L313.7 333.1 L314.2 332.3 L314.7 331.6 L315.2 330.8 L316.7 330.1 L317.2 329.4 L317.7 328.7 L318.2 328.1 L318.7 327.5 L320.2 326.9 L320.7 326.3 L321.2 325.7 L321.7 325.1 L322.2 324.6 L323.7 324.1 L324.2 323.7 L324.7 323.2 L325.2 322.7 L325.7 322.2 L327.2 321.7 L327.7 321.2 L328.2 320.7 L328.7 320.3 L329.2 319.8 L330.7 319.3 L331.2 318.8 L331.7 318.3 L332.2 317.8 L332.7 317.3 L334.2 316.9 L334.7 316.4 L335.2 315.9 L335.7 315.3 L336.2 314.8 L337.8 314.2 L338.3 313.7 L338.8 313.1 L339.3 312.5 L339.8 312.0 L341.3 311.5 L341.8 311.0 L342.3 310.5 L342.8 309.9 L343.3 309.3 L344.8 308.7 L345.3 308.1 L345.8 307.5 L346.3 306.9 L346.8 306.3 L348.3 305.7 L348.8 305.1 L349.3 304.6 L350.3 304.0 L351.8 303.5 L352.3 303.0 L352.8 302.6 L353.3 302.1 L353.8 301.6 L355.3 301.0 L355.8 300.4 L356.3 299.7 L356.8 299.1 L357.3 298.4 L358.8 297.7 L359.3 296.9 L359.8 296.1 L360.3 295.2 L360.8 294.3 L362.3 293.5 L362.8 292.7 L363.3 291.9 L363.8 291.1 L365.8 290.2 L366.3 289.4 L366.8 288.5 L367.3 287.6 L369.3 286.8 L369.8 285.9 L370.3 285.2 L370.8 284.5 L371.3 283.8 L372.8 283.1 L373.3 282.4 L373.8 281.8 L374.3 281.2 L374.8 280.6 L376.8 280.0 L377.3 279.5 L377.8 279.0 L378.4 278.6 L379.9 278.1 L380.4 277.7 L380.9 277.4 L381.4 277.0 L381.9 276.7 L383.4 276.4 L383.9 276.0 L384.4 275.6 L384.9 275.3 L385.4 274.9 L386.9 274.5 L387.4 274.1 L387.9 273.8 L388.4 273.4 L388.9 273.1 L390.4 272.9 L390.9 272.7 L391.4 272.4 L391.9 272.2 L392.4 272.0 L394.4 271.8 L394.9 271.7 L395.4 271.6 L395.9 271.4 L397.4 271.1 L397.9 270.8 L398.4 270.6 L398.9 270.3 L399.4 269.9 L400.9 269.7 L401.4 269.5 L401.9 269.3 L402.4 269.2 L402.9 269.0 L404.4 268.7 L404.9 268.3 L405.4 267.9 L405.9 267.5 L406.4 266.9 L407.9 266.4 L408.4 265.9 L408.9 265.4 L409.4 265.0 L409.9 264.6 L411.4 264.2 L411.9 263.8 L412.4 263.3 L412.9 262.8 L413.4 262.3 L414.9 261.9 L415.4 261.4 L415.9 260.9 L416.4 260.3 L416.9 259.7 L418.5 259.2 L419.0 258.7 L419.5 258.2 L420.0 257.8 L422.0 257.3 L422.5 256.9 L423.0 256.5 L423.5 256.1 L424.0 255.8 L425.5 255.6 L426.0 255.4 L426.5 255.2 L427.0 255.1 L427.5 254.9 L429.0 254.9 L429.5 254.8 L430.0 254.7 L430.5 254.6 L431.0 254.6 L432.5 254.6 L433.0 254.7 L433.5 254.9 L434.0 255.0 L434.5 255.0 L436.0 255.1 L436.5 255.1 L437.0 255.1 L437.5 255.2 L438.0 255.3 L439.5 255.4 L440.0 255.5 L440.5 255.5 L441.0 255.4 L441.5 255.3 L443.5 255.3 L444.0 255.3 L444.5 255.3 L445.0 255.4 L446.5 255.5 L447.0 255.6 L447.5 255.8 L448.0 256.0 L448.5 256.2 L450.0 256.5 L450.5 256.9 L451.0 257.3 L451.5 257.7 L452.0 258.2 L454.0 258.6 L454.5 258.9 L455.0 259.2 L455.5 259.4 L457.0 259.6 L457.5 259.7 L458.0 259.7 L458.5 259.8 L459.1 259.9 L461.1 259.9 L461.6 259.9 L462.1 259.9 L462.6 259.9 L464.1 260.0 L464.6 260.0 L465.1 260.0 L465.6 260.1 L466.1 260.1 L467.6 260.1 L468.1 260.0 L468.6 259.9 L469.1 259.7 L469.6 259.5 L471.1 259.3 L471.6 259.1 L472.1 258.9 L472.6 258.7 L473.1 258.4 L474.6 258.2 L475.1 257.9 L475.6 257.7 L476.1 257.5 L476.6 257.3 L478.1 257.1 L478.6 257.0 L479.1 256.9 L479.6 256.7 L480.1 256.6 L481.6 256.5 L482.1 256.4 L482.6 256.4 L483.1 256.3 L483.6 256.3 L485.1 256.3 L485.6 256.4 L486.1 256.6 L486.6 256.6 L487.1 256.8 L488.6 256.9 L489.1 257.1 L489.6 257.4 L490.1 257.6 L490.6 257.8 L492.6 258.0 L493.1 258.1 L493.6 258.2 L494.1 258.2 L495.6 258.3 L496.1 258.3 L496.6 258.4 L497.1 258.5 L497.6 258.6 L499.1 258.7 L499.7 258.8 L500.2 258.9 L500.7 259.1 L501.2 259.4 L502.7 259.7 L503.2 259.9 L503.7 260.2 L504.2 260.5 L504.7 260.9 L506.2 261.3 L506.7 261.6 L507.2 261.9 L507.7 262.3 L508.2 262.6 L509.7 263.0 L510.2 263.5 L510.7 263.9 L511.2 264.5 L511.7 264.9 L513.2 265.3 L513.7 265.8 L514.2 266.2 L514.7 266.6 L515.2 266.9 L516.7 267.1 L517.2 267.2 L517.7 267.4 L518.2 267.5 L518.7 267.5 L520.2 267.6 L520.7 267.6 L521.2 267.6 L521.7 267.6 L522.2 267.6 L523.7 267.5 L524.2 267.3 L524.7 267.1 L525.2 266.9 L525.7 266.6 L527.2 266.4 L527.7 266.2 L528.2 266.1 L528.7 266.0 L529.2 265.9 L530.7 265.8 L531.2 265.7 L531.7 265.5 L532.7 265.4 L534.2 265.2 L534.7 265.0 L535.2 264.7 L535.7 264.3 L536.2 263.9 L537.7 263.5 L538.2 263.1 L538.7 262.7 L539.2 262.3 L539.8 261.8 L541.3 261.5 L541.8 261.2 L542.3 260.8 L542.8 260.5 L543.3 260.2 L544.8 260.0 L545.3 259.8 L545.8 259.6 L546.3 259.3 L546.8 259.0 L548.8 258.7 L549.3 258.6 L549.8 258.4 L550.3 258.3 L552.3 258.3 L552.8 258.2 L553.3 258.2 L553.8 258.2 L555.3 258.2 L555.8 258.2 L556.3 258.1 L556.8 258.1 L557.3 258.2 L559.3 258.3 L559.8 258.4 L560.3 258.4 L560.8 258.5 L562.3 258.6 L562.8 258.7 L563.3 258.8 L563.8 259.1 L564.3 259.3 L565.8 259.5 L566.3 259.7 L566.8 259.8 L567.3 259.9 L567.8 260.1 L569.3 260.3 L569.8 260.5 L570.3 260.6 L570.8 260.6 L571.3 260.6 L572.8 260.5 L573.3 260.4 L573.8 260.4 L574.3 260.3 L574.8 260.2 L576.8 260.1 L577.3 260.0 L577.8 259.9 L578.3 259.8 L579.8 259.7 L580.4 259.6 L580.9 259.5 L581.4 259.5 L581.9 259.4 L583.4 259.4 L583.9 259.4 L584.4 259.4 L584.9 259.5 L585.4 259.6 L586.9 259.7 L587.4 259.8 L587.9 260.0 L588.4 260.1 L588.9 260.3 L590.4 260.4 L590.9 260.5 L591.4 260.6 L591.9 260.7 L592.4 260.8 L593.9 260.9 L594.4 260.8 L594.9 260.7 L595.4 260.4 L595.9 260.1 L597.4 259.7 L597.9 259.3 L598.4 258.8 L598.9 258.4 L600.9 258.1 L601.4 257.7 L601.9 257.5 L602.4 257.2 L602.9 257.0 L604.4 256.8 L604.9 256.6 L605.4 256.4 L605.9 256.2 L606.4 256.0 L607.9 255.8 L608.4 255.7 L608.9 255.5 L609.4 255.4 L609.9 255.2 L611.4 255.0 L611.9 254.7 L612.4 254.6 L612.9 254.4 L613.4 254.3 L614.9 254.1 L615.4 254.0 L615.9 253.9 L616.4 253.9 L616.9 253.8 L618.4 253.8 L618.9 253.8 L619.4 253.7 L619.9 253.7 L620.5 253.7 L622.0 253.7 L622.5 253.7 L623.0 253.7 L623.5 253.8 L624.0 253.9 L626.0 254.1 L626.5 254.2 L627.0 254.4 L627.5 254.5 L629.0 254.6 L629.5 254.6 L630.0 254.7 L630.5 254.7 L631.0 254.6 L632.5 254.5 L633.0 254.4 L633.5 254.3 L634.0 254.1 L634.5 253.9 L636.5 253.6 L637.0 253.3 L637.5 253.0 L638.0 252.7 L639.5 252.6 L640.0 252.4 L640.5 252.3 L641.0 252.2 L641.5 252.1 L643.0 251.9 L644.0 251.7 L644.5 251.5 L645.0 251.3 L646.5 251.1 L647.0 250.9 L647.5 250.6 L648.0 250.3 L648.5 250.0 L650.0 249.6 L650.5 249.3 L651.0 248.8 L651.5 248.3 L652.0 247.8 L653.5 247.4 L654.0 247.1 L654.5 246.7 L655.0 246.4 L655.5 245.9 L657.0 245.5 L657.5 245.0 L658.0 244.7 L658.5 244.3 L659.0 244.1 L660.5 243.8 L661.1 243.4 L661.6 243.1 L662.1 242.8 L662.6 242.5 L664.1 242.3 L664.6 242.1 L665.1 241.9 L665.6 241.8 L666.1 241.7 L667.6 241.6 L668.1 241.5 L668.6 241.3 L669.1 241.2 L669.6 241.1 L671.1 241.0 L671.6 241.0 L672.1 240.9 L672.6 240.9 L673.1 240.8 L675.1 240.7 L675.6 240.7 L676.1 240.7 L676.6 240.7 L678.1 240.8 L678.6 240.8 L679.1 240.9 L679.6 241.0 L680.1 241.0 L681.6 241.1 L682.1 241.2 L682.6 241.4 L683.1 241.6 L683.6 241.8 L685.1 242.0 L685.6 242.2 L686.1 242.4 L686.6 242.7 L687.1 242.9 L688.6 243.2 L689.1 243.5 L689.6 243.8 L690.1 244.0 L690.6 244.0 L692.1 244.1 L692.6 244.2 L693.1 244.3 L693.6 244.4 L694.1 244.5 L695.6 244.6 L696.1 244.8 L696.6 244.9 L697.1 245.1 L697.6 245.3 L699.1 245.5 L699.6 245.7 L700.1 246.0 L700.6 246.2 L701.1 246.5 L702.7 246.8 L703.2 247.1 L703.7 247.2 L704.2 247.4 L704.7 247.6 L706.2 247.7 L706.7 247.8 L707.2 248.0 L707.7 248.2 L708.2 248.4 L709.7 248.6 L710.2 248.7 L710.7 248.7 L711.2 248.8 L711.7 248.9 L713.2 249.0 L713.7 249.0 L714.2 248.9 L715.2 248.9 L716.7 248.9 L717.2 248.9 L717.7 249.0 L718.2 248.9 L718.7 248.9 L720.2 248.8 L720.7 248.7 L721.2 248.6 L721.7 248.5 L722.2 248.4 L723.7 248.2 L724.2 247.9 L724.7 247.5 L725.2 247.3 L725.7 247.0 L727.2 246.8 L727.7 246.6 L728.2 246.3 L728.7 246.0 L729.2 245.6 L731.2 245.2 L731.7 244.8 L732.2 244.4 L732.7 244.0 L734.7 243.5 L735.2 243.1 L735.7 242.6 L736.2 242.1 L737.7 241.6 L738.2 241.0 L738.7 240.5 L739.2 240.0 L739.7 239.6 L741.8 239.2 L742.3 238.8 L742.8 238.4 L743.3 238.1 L744.8 237.8 L745.3 237.5 L745.8 237.2 L746.3 237.0 L746.8 236.8 L748.3 236.5 L748.8 236.3 L749.3 236.1 L749.8 235.8 L750.3 235.4 L751.8 235.1 L752.3 234.7 L752.8 234.4 L753.3 234.0 L753.8 233.6 L755.3 233.2 L755.8 232.8 L756.3 232.4 L756.8 232.0 L757.3 231.5 L759.3 231.1 L759.8 230.6 L760.3 230.0 L760.8 229.5 L762.3 229.0 L762.8 228.5 L763.3 228.0 L763.8 227.5 L764.3 227.0 L765.8 226.5 L766.3 226.0 L766.8 225.5 L767.3 224.9 L767.8 224.3 L769.3 223.8 L769.8 223.1 L770.3 222.5 L770.8 221.8 L771.3 221.2 L772.8 220.5 L773.3 219.9 L773.8 219.2 L774.3 218.7 L774.8 218.1 L776.3 217.5 L776.8 216.9 L777.3 216.3 L777.8 215.7 L779.8 215.1 L780.3 214.6 L780.8 214.1 L781.3 213.7 L781.8 213.3 L783.4 212.9 L783.9 212.6 L784.4 212.2 L784.9 211.9 L785.4 211.6 L786.9 211.3 L787.4 211.1 L787.9 210.8 L788.4 210.6 L788.9 210.3 L790.4 209.9 L790.9 209.4 L791.4 209.0 L791.9 208.6 L792.4 208.2 L793.9 207.9 L794.4 207.5 L794.9 207.2 L795.4 206.9 L795.9 206.7 L797.4 206.4 L797.9 206.1 L798.4 205.8 L798.9 205.5 L799.4 205.2 L800.9 204.9 L801.4 204.4 L801.9 204.0 L802.4 203.6 L802.9 203.1 L804.4 202.6 L804.9 202.1 L805.4 201.6 L805.9 201.2 L806.4 200.9 L808.4 200.6 L808.9 200.3 L809.4 200.0 L809.9 199.7 L811.4 199.4 L811.9 199.0 L812.4 198.5 L812.9 198.1 L813.4 197.6 L814.9 197.1 L815.4 196.6 L815.9 196.1 L816.4 195.7 L816.9 195.2 L818.4 194.8 L818.9 194.4 L819.9 193.9 L820.4 193.4 L821.9 192.9 L822.5 192.4 L823.0 191.9 L823.5 191.3 L824.0 190.9 L825.5 190.4 L826.0 190.0 L826.5 189.6 L827.5 189.1 L829.0 188.6 L829.5 188.0 L830.0 187.4 L830.5 186.8 L831.0 186.2 L832.5 185.5 L833.0 184.8 L833.5 184.1 L834.0 183.4 L834.5 182.7 L836.0 182.0 L836.5 181.2 L837.0 180.5 L837.5 179.8 L838.0 179.1 L839.5 178.5 L840.0 177.8 L840.5 177.1 L841.0 176.4 L841.5 175.7 L843.0 175.1 L843.5 174.5 L844.0 173.9 L844.5 173.2 L845.0 172.4 L846.5 171.5 L847.0 170.6 L847.5 169.7 L848.0 168.6 L848.5 167.6 L850.0 166.6 L850.5 165.6 L851.0 164.6 L851.5 163.7 L852.0 162.7 L853.5 161.8 L854.0 160.8 L854.5 159.7 L855.0 158.7 L855.5 157.6 L857.5 156.7 L858.0 155.7 L858.5 154.8 L859.0 153.9 L860.5 153.1 L861.0 152.2 L861.5 151.3 L862.0 150.5 L862.5 149.6 L864.1 148.7 L864.6 147.8 L865.1 147.0 L865.6 146.2 L866.1 145.4 L867.6 144.6 L868.1 143.8 L868.6 143.1 L869.1 142.3 L869.6 141.6 L871.1 141.0 L871.6 140.4 L872.1 139.7 L872.6 139.1 L873.1 138.5 L874.6 137.9 L875.1 137.2 L875.6 136.6 L876.1 135.9 L876.6 135.3 L878.1 134.6 L878.6 134.0 L879.1 133.5 L879.6 133.0 L880.1 132.5 L881.6 132.0 L882.1 131.6 L882.6 131.3 L883.1 131.0 L883.6 130.7 L885.1 130.4 L885.6 130.0 L886.1 129.7 L886.6 129.4 L887.1 129.1 L888.6 128.8 L889.1 128.5 L889.6 128.1 L890.1 127.7 L890.6 127.3 L892.1 127.0 L892.6 126.7 L893.1 126.6 L893.6 126.5 L894.1 126.5 L895.6 126.4 L896.1 126.4 L896.6 126.4 L897.1 126.3 L897.6 126.3 L899.1 126.2 L899.6 126.0 L900.1 125.8 L901.1 125.7 L902.6 125.6 L903.1 125.5 L903.7 125.4 L904.2 125.4 L904.7 125.5 L906.2 125.5 L906.7 125.6 L907.2 125.7 L907.7 125.8 L908.2 125.8 L909.7 126.0 L910.2 126.2 L910.7 126.4 L911.2 126.7 L911.7 126.9 L913.2 127.1 L913.7 127.3 L914.7 127.4 L915.2 127.6 L916.7 127.9 L917.2 128.0 L918.2 128.2 L918.7 128.4 L920.2 128.6 L920.7 128.7 L921.2 128.8 L921.7 129.0 L922.2 129.1 L923.7 129.2 L924.2 129.4 L924.7 129.5 L925.2 129.6 L925.7 129.6 L927.7 129.4 L928.2 129.3 L928.7 129.1 L929.2 128.9 L930.7 128.7 L931.2 128.4 L931.7 128.0 L932.2 127.7 L932.7 127.4 L934.2 127.1 L934.7 126.7 L935.2 126.3 L935.7 126.1 L936.2 125.8 L937.7 125.6 L938.2 125.4 L938.7 125.1 L939.2 124.9 L939.7 124.7 L941.7 124.5 L942.2 124.3 L942.7 124.0 L943.2 123.8 L944.8 123.6 L945.3 123.4 L945.8 123.1 L946.3 122.9 L946.8 122.7 L948.3 122.6 L948.8 122.4 L949.3 122.3 L949.8 122.1 L950.3 122.0 L951.8 121.9 L952.3 121.9 L952.8 121.8 L953.3 121.8 L953.8 121.6 L955.3 121.5 L955.8 121.2 L956.3 121.0 L956.8 120.9 L957.3 120.8 L958.8 120.7 L959.3 120.6 L959.8 120.5 L960.3 120.5 L960.8 120.5 L962.3 120.5 L962.8 120.6 L963.3 120.8 L963.8 121.0 L964.3 121.3 L965.8 121.7 L966.3 121.9 L966.8 122.2 L967.3 122.4 L967.8 122.6 L969.3 122.8 L969.8 123.0 L970.3 123.2 L970.8 123.4 L972.8 123.7 L973.3 124.0 L973.8 124.3 L974.3 124.5 L974.8 124.8 L976.3 125.0 L976.8 125.2 L977.3 125.6 L977.8 125.9 L978.3 126.2 L979.8 126.5 L980.3 126.9 L980.8 127.3 L981.3 127.8 L981.8 128.3 L983.3 128.7 L983.8 129.3 L984.4 129.8 L984.9 130.3 L985.4 130.8 L986.9 131.4 L987.4 131.9 L987.9 132.4 L988.4 132.9 L988.9 133.3 L990.9 133.8 L991.4 134.3 L991.9 134.9 L992.4 135.4 L993.9 136.0 L994.4 136.6 L994.9 137.2 L995.4 137.9 L995.9 138.5 L997.4 139.1 L997.9 139.7 L998.4 140.3 L998.9 140.8 L999.4 141.4 L1000.9 142.1 L1001.4 142.8 L1001.9 143.5 L1002.9 144.2 L1004.4 144.9 L1004.9 145.5 L1005.4 146.1 L1005.9 146.6 L1006.4 147.2 L1007.9 147.8 L1008.4 148.3 L1008.9 148.9 L1009.4 149.6 L1011.4 150.2 L1011.9 150.8 L1012.4 151.3 L1012.9 151.9 L1013.4 152.6 L1014.9 153.2 L1015.4 153.8 L1015.9 154.4 L1016.4 155.1 L1016.9 155.7 L1018.4 156.2 L1018.9 156.6 L1019.4 157.1 L1019.9 157.5 L1020.4 158.0 L1021.9 158.5 L1022.4 159.2 L1022.9 159.9 L1023.4 160.5 L1023.9 161.2 L1025.5 161.8 L1026.0 162.5 L1026.5 163.2 L1027.0 163.9 L1027.5 164.5 L1029.0 165.1 L1029.5 165.6 L1030.0 166.0 L1030.5 166.3 L1031.0 166.7 L1032.5 167.0 L1033.0 167.3 L1033.5 167.5 L1034.0 167.8 L1034.5 168.1 L1036.0 168.4 L1036.5 168.8 L1037.0 169.1 L1037.5 169.5 L1038.0 169.8 L1040.0 170.0 L1040.5 170.2 L1041.0 170.3 L1041.5 170.3 L1043.0 170.4 L1043.5 170.4 L1044.0 170.4 L1044.5 170.6 L1045.0 170.7 L1046.5 171.0 L1047.0 171.2 L1047.5 171.5 L1048.0 171.8 L1048.5 172.0 L1050.0 172.3 L1050.5 172.6 L1051.0 172.8 L1051.5 173.1 L1052.0 173.3 L1053.5 173.3 L1054.0 173.2 L1054.5 173.0 L1055.0 172.8 L1055.5 172.6 L1057.0 172.3 L1057.5 172.0 L1058.0 171.7 L1058.5 171.5 L1059.0 171.3 L1060.5 171.1 L1061.0 171.0 L1061.5 170.7 L1062.0 170.4 L1062.5 170.1 L1064.0 169.8 L1064.5 169.5 L1065.1 169.2 L1065.6 168.9 L1066.1 168.6 L1067.6 168.4 L1068.1 168.2 L1068.6 168.1 L1069.1 167.9 L1069.6 167.7 L1071.1 167.5 L1071.6 167.4 L1072.1 167.3 L1072.6 167.2 L1073.1 167.1 L1074.6 166.9 L1075.1 166.7 L1075.6 166.5 L1076.1 166.2 L1076.6 166.0 L1078.1 165.7 L1078.6 165.5 L1079.1 165.4 L1079.6 165.1 L1080.1 164.7 L1081.6 164.3 L1082.1 163.8 L1082.6 163.4 L1083.6 162.9 L1085.1 162.6 L1085.6 162.2 L1086.1 161.9 L1086.6 161.6 L1087.1 161.3 L1088.6 161.1 L1089.1 161.0 L1089.6 160.8 L1090.1 160.6 L1090.6 160.3 L1092.1 159.9 L1092.6 159.7 L1093.1 159.5 L1093.6 159.3" fill="none" stroke="#800080" stroke-width="2.08" stroke-linejoin="round"/>
</g>
<path d="M107 660V654h1V660zM108 660V654h1V660zM109 660V650h1V660zM111 660V654h1V660zM112 660V654h1V660zM114 660V653h1V660zM115 660V656h1V660zM116 660V654h1V660zM118 660V653h1V660zM119 660V651h1V660zM121 660V656h1V660zM122 660V655h1V660zM123 660V656h1V660zM125 660V651h1V660zM126 660V652h1V660zM129 660V657h1V660zM130 660V650h1V660zM132 660V650h1V660zM133 660V653h1V660zM135 660V653h1V660zM136 660V656h1V660zM137 660V657h1V660zM220 660V651h1V660zM240 660V646h1V660zM241 660V651h1V660zM243 660V650h1V660zM244 660V649h1V660zM245 660V651h1V660zM247 660V647h1V660zM248 660V647h1V660zM250 660V641h1V660zM251 660V646h1V660zM252 660V644h1V660zM254 660V646h1V660zM255 660V644h1V660zM257 660V647h1V660zM258 660V649h1V660zM259 660V638h1V660zM261 660V638h1V660zM262 660V633h1V660zM264 660V643h1V660zM265 660V648h1V660zM266 660V649h1V660zM268 660V649h1V660zM269 660V651h1V660zM271 660V642h1V660zM272 660V647h1V660zM273 660V641h1V660zM275 660V648h1V660zM276 660V638h1V660zM279 660V641h1V660zM280 660V651h1V660zM282 660V650h1V660zM283 660V639h1V660zM285 660V647h1V660zM286 660V638h1V660zM287 660V647h1V660zM289 660V638h1V660zM290 660V644h1V660zM292 660V642h1V660zM293 660V649h1V660zM294 660V650h1V660zM296 660V648h1V660zM297 660V638h1V660zM299 660V642h1V660zM300 660V650h1V660zM301 660V649h1V660zM303 660V650h1V660zM304 660V651h1V660zM306 660V641h1V660zM307 660V633h1V660zM308 660V645h1V660zM310 660V647h1V660zM311 660V650h1V660zM313 660V643h1V660zM314 660V650h1V660zM315 660V644h1V660zM317 660V650h1V660zM318 660V647h1V660zM320 660V649h1V660zM321 660V649h1V660zM322 660V638h1V660zM324 660V641h1V660zM325 660V649h1V660zM327 660V640h1V660zM328 660V649h1V660zM329 660V635h1V660zM331 660V640h1V660zM332 660V644h1V660zM334 660V650h1V660zM335 660V638h1V660zM336 660V649h1V660zM338 660V649h1V660zM339 660V642h1V660zM341 660V648h1V660zM342 660V649h1V660zM343 660V651h1V660zM345 660V638h1V660zM346 660V645h1V660zM348 660V649h1V660zM349 660V645h1V660zM350 660V648h1V660zM352 660V647h1V660zM353 660V638h1V660zM355 660V646h1V660zM356 660V645h1V660zM357 660V640h1V660zM359 660V650h1V660zM360 660V650h1V660zM362 660V639h1V660zM363 660V641h1V660zM366 660V649h1V660zM367 660V650h1V660zM369 660V642h1V660zM370 660V627h1V660zM371 660V650h1V660zM373 660V639h1V660zM374 660V640h1V660zM377 660V645h1V660zM378 660V647h1V660zM380 660V650h1V660zM381 660V651h1V660zM383 660V638h1V660zM384 660V649h1V660zM385 660V643h1V660zM388 660V649h1V660zM389 660V641h1V660zM391 660V645h1V660zM392 660V649h1V660zM393 660V650h1V660zM395 660V643h1V660zM396 660V651h1V660zM398 660V649h1V660zM399 660V630h1V660zM400 660V640h1V660zM402 660V644h1V660zM403 660V649h1V660zM405 660V639h1V660zM406 660V650h1V660zM407 660V651h1V660zM409 660V649h1V660zM410 660V647h1V660zM412 660V628h1V660zM413 660V650h1V660zM414 660V648h1V660zM416 660V645h1V660zM417 660V650h1V660zM419 660V648h1V660zM420 660V640h1V660zM423 660V638h1V660zM424 660V644h1V660zM426 660V633h1V660zM427 660V645h1V660zM428 660V650h1V660zM430 660V651h1V660zM431 660V651h1V660zM433 660V639h1V660zM434 660V643h1V660zM435 660V638h1V660zM437 660V651h1V660zM438 660V644h1V660zM440 660V646h1V660zM441 660V643h1V660zM442 660V648h1V660zM444 660V635h1V660zM445 660V650h1V660zM447 660V645h1V660zM448 660V642h1V660zM449 660V640h1V660zM451 660V642h1V660zM452 660V643h1V660zM455 660V642h1V660zM456 660V639h1V660zM458 660V648h1V660zM459 660V643h1V660zM462 660V640h1V660zM463 660V640h1V660zM465 660V638h1V660zM466 660V642h1V660zM468 660V640h1V660zM469 660V645h1V660zM470 660V644h1V660zM472 660V648h1V660zM473 660V645h1V660zM475 660V645h1V660zM476 660V650h1V660zM477 660V644h1V660zM479 660V638h1V660zM480 660V640h1V660zM482 660V643h1V660zM483 660V648h1V660zM484 660V643h1V660zM486 660V638h1V660zM487 660V647h1V660zM489 660V641h1V660zM490 660V650h1V660zM491 660V642h1V660zM493 660V651h1V660zM494 660V645h1V660zM496 660V646h1V660zM497 660V649h1V660zM498 660V643h1V660zM500 660V646h1V660zM501 660V644h1V660zM503 660V639h1V660zM504 660V638h1V660zM505 660V651h1V660zM507 660V649h1V660zM508 660V643h1V660zM510 660V650h1V660zM511 660V650h1V660zM512 660V639h1V660zM514 660V644h1V660zM515 660V647h1V660zM517 660V640h1V660zM518 660V648h1V660zM519 660V644h1V660zM521 660V652h1V660zM522 660V650h1V660zM524 660V645h1V660zM525 660V643h1V660zM526 660V644h1V660zM528 660V650h1V660zM529 660V648h1V660zM531 660V651h1V660zM532 660V652h1V660zM533 660V649h1V660zM535 660V645h1V660zM536 660V644h1V660zM538 660V646h1V660zM539 660V643h1V660zM540 660V651h1V660zM542 660V652h1V660zM543 660V650h1V660zM545 660V651h1V660zM546 660V652h1V660zM547 660V650h1V660zM549 660V648h1V660zM550 660V649h1V660zM553 660V651h1V660zM554 660V645h1V660zM556 660V642h1V660zM557 660V650h1V660zM560 660V653h1V660zM561 660V653h1V660zM563 660V644h1V660zM564 660V653h1V660zM566 660V646h1V660zM567 660V648h1V660zM568 660V651h1V660zM570 660V645h1V660zM571 660V653h1V660zM573 660V652h1V660zM574 660V650h1V660zM575 660V653h1V660zM577 660V645h1V660zM578 660V652h1V660zM580 660V652h1V660zM581 660V653h1V660zM582 660V647h1V660zM584 660V650h1V660zM585 660V619h1V660zM587 660V647h1V660zM588 660V645h1V660zM589 660V643h1V660zM591 660V647h1V660zM592 660V652h1V660zM594 660V649h1V660zM595 660V652h1V660zM596 660V653h1V660zM598 660V649h1V660zM599 660V646h1V660zM601 660V652h1V660zM602 660V651h1V660zM603 660V651h1V660zM605 660V647h1V660zM606 660V649h1V660zM608 660V648h1V660zM609 660V646h1V660zM610 660V650h1V660zM612 660V645h1V660zM613 660V644h1V660zM615 660V653h1V660zM616 660V643h1V660zM617 660V646h1V660zM619 660V652h1V660zM620 660V650h1V660zM622 660V648h1V660zM623 660V640h1V660zM624 660V650h1V660zM626 660V648h1V660zM627 660V644h1V660zM629 660V645h1V660zM630 660V643h1V660zM631 660V649h1V660zM633 660V647h1V660zM634 660V652h1V660zM637 660V646h1V660zM638 660V645h1V660zM640 660V647h1V660zM641 660V646h1V660zM643 660V652h1V660zM644 660V644h1V660zM645 660V642h1V660zM647 660V642h1V660zM648 660V649h1V660zM650 660V639h1V660zM651 660V651h1V660zM652 660V643h1V660zM654 660V638h1V660zM655 660V651h1V660zM657 660V653h1V660zM658 660V650h1V660zM659 660V648h1V660zM744 660V642h1V660zM745 660V646h1V660zM746 660V650h1V660zM748 660V641h1V660zM749 660V650h1V660zM751 660V641h1V660zM752 660V649h1V660zM753 660V648h1V660zM755 660V641h1V660zM756 660V649h1V660zM759 660V649h1V660zM760 660V645h1V660zM762 660V642h1V660zM763 660V641h1V660zM765 660V643h1V660zM766 660V639h1V660zM767 660V646h1V660zM769 660V639h1V660zM770 660V650h1V660zM772 660V649h1V660zM773 660V645h1V660zM774 660V651h1V660zM776 660V646h1V660zM777 660V647h1V660zM779 660V649h1V660zM780 660V644h1V660zM781 660V648h1V660zM783 660V651h1V660zM784 660V650h1V660zM786 660V635h1V660zM787 660V644h1V660zM788 660V652h1V660zM790 660V644h1V660zM791 660V643h1V660zM793 660V649h1V660zM794 660V648h1V660zM795 660V652h1V660zM797 660V649h1V660zM798 660V649h1V660zM800 660V648h1V660zM801 660V653h1V660zM802 660V643h1V660zM804 660V649h1V660zM805 660V650h1V660zM808 660V645h1V660zM809 660V648h1V660zM811 660V654h1V660zM812 660V652h1V660zM814 660V656h1V660zM815 660V654h1V660zM816 660V655h1V660zM818 660V650h1V660zM819 660V650h1V660zM821 660V656h1V660zM822 660V654h1V660zM823 660V656h1V660zM825 660V655h1V660zM828 660V651h1V660zM829 660V650h1V660zM830 660V654h1V660zM832 660V655h1V660zM833 660V656h1V660zM835 660V653h1V660zM836 660V650h1V660zM837 660V656h1V660zM839 660V652h1V660zM840 660V654h1V660zM842 660V633h1V660zM843 660V652h1V660zM844 660V647h1V660zM846 660V652h1V660zM847 660V651h1V660zM849 660V648h1V660zM850 660V653h1V660zM851 660V646h1V660zM853 660V653h1V660zM854 660V649h1V660zM857 660V652h1V660zM858 660V653h1V660zM860 660V649h1V660zM861 660V650h1V660zM863 660V651h1V660zM864 660V651h1V660zM865 660V649h1V660zM867 660V653h1V660zM868 660V653h1V660zM870 660V648h1V660zM871 660V648h1V660zM872 660V649h1V660zM874 660V645h1V660zM875 660V648h1V660zM877 660V644h1V660zM878 660V647h1V660zM879 660V640h1V660zM881 660V639h1V660zM882 660V637h1V660zM884 660V646h1V660zM885 660V646h1V660zM887 660V637h1V660zM889 660V647h1V660zM890 660V636h1V660zM892 660V638h1V660zM893 660V625h1V660zM894 660V647h1V660zM896 660V640h1V660zM897 660V647h1V660zM899 660V648h1V660zM900 660V639h1V660zM901 660V645h1V660zM903 660V639h1V660zM904 660V648h1V660zM906 660V645h1V660zM907 660V641h1V660zM908 660V624h1V660zM910 660V647h1V660zM911 660V641h1V660zM913 660V631h1V660zM915 660V630h1V660zM917 660V644h1V660zM918 660V639h1V660zM920 660V634h1V660zM921 660V639h1V660zM922 660V636h1V660zM924 660V644h1V660zM925 660V645h1V660zM928 660V644h1V660zM929 660V645h1V660zM931 660V638h1V660zM932 660V639h1V660zM934 660V638h1V660zM935 660V644h1V660zM936 660V644h1V660zM938 660V643h1V660zM939 660V633h1V660zM942 660V620h1V660zM943 660V622h1V660zM945 660V639h1V660zM946 660V639h1V660zM948 660V621h1V660zM949 660V633h1V660zM950 660V626h1V660zM952 660V635h1V660zM953 660V633h1V660zM955 660V632h1V660zM956 660V634h1V660zM957 660V630h1V660zM959 660V639h1V660zM960 660V628h1V660zM962 660V624h1V660zM963 660V579h1V660zM964 660V638h1V660zM966 660V579h1V660zM967 660V638h1V660zM969 660V640h1V660zM970 660V640h1V660zM973 660V637h1V660zM974 660V641h1V660zM976 660V631h1V660zM977 660V632h1V660zM978 660V634h1V660zM980 660V631h1V660zM981 660V615h1V660zM983 660V578h1V660zM984 660V587h1V660zM985 660V618h1V660zM987 660V603h1V660zM988 660V609h1V660zM991 660V624h1V660zM992 660V606h1V660zM994 660V611h1V660zM995 660V610h1V660zM997 660V609h1V660zM998 660V621h1V660zM999 660V606h1V660zM1001 660V607h1V660zM1004 660V613h1V660zM1005 660V611h1V660zM1006 660V585h1V660zM1008 660V629h1V660zM1009 660V624h1V660zM1011 660V632h1V660zM1012 660V629h1V660zM1013 660V628h1V660zM1015 660V632h1V660zM1016 660V629h1V660zM1018 660V626h1V660zM1019 660V626h1V660zM1020 660V630h1V660zM1022 660V563h1V660zM1023 660V615h1V660zM1025 660V621h1V660zM1026 660V615h1V660zM1027 660V617h1V660zM1029 660V618h1V660zM1030 660V620h1V660zM1032 660V572h1V660zM1033 660V616h1V660zM1034 660V614h1V660zM1036 660V606h1V660zM1037 660V598h1V660zM1040 660V623h1V660zM1041 660V611h1V660zM1043 660V607h1V660zM1044 660V620h1V660zM1046 660V617h1V660zM1047 660V623h1V660zM1048 660V621h1V660zM1050 660V617h1V660zM1051 660V622h1V660zM1053 660V558h1V660zM1054 660V601h1V660zM1055 660V594h1V660zM1057 660V614h1V660zM1058 660V627h1V660zM1060 660V633h1V660zM1061 660V626h1V660zM1062 660V632h1V660zM1064 660V629h1V660zM1065 660V637h1V660zM1067 660V632h1V660zM1068 660V604h1V660zM1069 660V623h1V660zM1071 660V597h1V660zM1072 660V621h1V660zM1074 660V614h1V660zM1075 660V621h1V660zM1076 660V579h1V660zM1078 660V579h1V660zM1079 660V623h1V660zM1081 660V590h1V660zM1082 660V613h1V660zM1083 660V609h1V660zM1085 660V606h1V660zM1086 660V615h1V660zM1088 660V618h1V660zM1089 660V587h1V660zM1090 660V594h1V660z" fill="#bebebe" shape-rendering="crispEdges"/>
<rect x="57.5" y="9.5" width="1085.0" height="476.0" fill="none" stroke="#000" stroke-width="1.1"/>
<rect x="57.5" y="500.5" width="1085.0" height="159.0" fill="none" stroke="#000" stroke-width="1.1"/>
<g stroke="#000" stroke-width="1.1">
<line x1="52.6" y1="22.5" x2="57.5" y2="22.5"/>
<line x1="52.6" y1="89.5" x2="57.5" y2="89.5"/>
<line x1="52.6" y1="155.5" x2="57.5" y2="155.5"/>
<line x1="52.6" y1="222.5" x2="57.5" y2="222.5"/>
<line x1="52.6" y1="288.5" x2="57.5" y2="288.5"/>
<line x1="52.6" y1="355.5" x2="57.5" y2="355.5"/>
<line x1="52.6" y1="421.5" x2="57.5" y2="421.5"/>
<line x1="52.6" y1="659.5" x2="57.5" y2="659.5"/>
<line x1="52.6" y1="623.5" x2="57.5" y2="623.5"/>
<line x1="52.6" y1="586.5" x2="57.5" y2="586.5"/>
<line x1="52.6" y1="550.5" x2="57.5" y2="550.5"/>
<line x1="52.6" y1="513.5" x2="57.5" y2="513.5"/>
<line x1="186.5" y1="485.5" x2="186.5" y2="490.4"/>
<line x1="186.5" y1="659.5" x2="186.5" y2="664.4"/>
<line x1="368.5" y1="485.5" x2="368.5" y2="490.4"/>
<line x1="368.5" y1="659.5" x2="368.5" y2="664.4"/>
<line x1="551.5" y1="485.5" x2="551.5" y2="490.4"/>
<line x1="551.5" y1="659.5" x2="551.5" y2="664.4"/>
<line x1="734.5" y1="485.5" x2="734.5" y2="490.4"/>
<line x1="734.5" y1="659.5" x2="734.5" y2="664.4"/>
<line x1="917.5" y1="485.5" x2="917.5" y2="490.4"/>
<line x1="917.5" y1="659.5" x2="917.5" y2="664.4"/>
<line x1="1100.5" y1="485.5" x2="1100.5" y2="490.4"/>
<line x1="1100.5" y1="659.5" x2="1100.5" y2="664.4"/>
</g>
<text transform="translate(22.90,27.90) scale(1.1994,1)" x="-0.94" y="0" font-size="12.4" fill="#000" >160</text>
<text transform="translate(22.90,94.90) scale(1.1994,1)" x="-0.94" y="0" font-size="12.4" fill="#000" >150</text>
<text transform="translate(22.90,160.90) scale(1.1994,1)" x="-0.94" y="0" font-size="12.4" fill="#000" >140</text>
<text transform="translate(22.90,227.90) scale(1.1994,1)" x="-0.94" y="0" font-size="12.4" fill="#000" >130</text>
<text transform="translate(22.90,293.90) scale(1.1994,1)" x="-0.94" y="0" font-size="12.4" fill="#000" >120</text>
<text transform="translate(22.90,360.90) scale(1.1994,1)" x="-0.94" y="0" font-size="12.4" fill="#000" >110</text>
<text transform="translate(22.90,426.90) scale(1.1994,1)" x="-0.94" y="0" font-size="12.4" fill="#000" >100</text>
<text transform="translate(26.93,664.80) scale(1.1840,1)" x="0" y="0" font-size="12.4" fill="#000" >0</text>
<text transform="translate(35.09,664.80) scale(1.0207,1)" x="0" y="0" font-size="12.4" fill="#000" >.</text>
<text transform="translate(38.61,664.80) scale(1.1840,1)" x="0" y="0" font-size="12.4" fill="#000" >0</text>
<text transform="translate(26.93,628.80) scale(1.1867,1)" x="0" y="0" font-size="12.4" fill="#000" >0</text>
<text transform="translate(35.11,628.80) scale(1.0231,1)" x="0" y="0" font-size="12.4" fill="#000" >.</text>
<text transform="translate(38.63,628.80) scale(1.1867,1)" x="0" y="0" font-size="12.4" fill="#000" >5</text>
<text transform="translate(26.35,591.80) scale(1.2195,1)" x="0" y="0" font-size="12.4" fill="#000" >1</text>
<text transform="translate(34.76,591.80) scale(1.0513,1)" x="0" y="0" font-size="12.4" fill="#000" >.</text>
<text transform="translate(38.38,591.80) scale(1.2195,1)" x="0" y="0" font-size="12.4" fill="#000" >0</text>
<text transform="translate(26.35,555.80) scale(1.2224,1)" x="0" y="0" font-size="12.4" fill="#000" >1</text>
<text transform="translate(34.78,555.80) scale(1.0538,1)" x="0" y="0" font-size="12.4" fill="#000" >.</text>
<text transform="translate(38.41,555.80) scale(1.2224,1)" x="0" y="0" font-size="12.4" fill="#000" >5</text>
<text transform="translate(26.76,518.80) scale(1.1945,1)" x="0" y="0" font-size="12.4" fill="#000" >2</text>
<text transform="translate(34.99,518.80) scale(1.0298,1)" x="0" y="0" font-size="12.4" fill="#000" >.</text>
<text transform="translate(38.54,518.80) scale(1.1945,1)" x="0" y="0" font-size="12.4" fill="#000" >0</text>
<text transform="translate(158.76,678.80) scale(1.1943,1)" x="0" y="0" font-size="12.4" fill="#000" >2021</text>
<text transform="translate(191.70,678.80) scale(1.0296,1)" x="0" y="0" font-size="12.4" fill="#000" >-</text>
<text transform="translate(195.95,678.80) scale(1.1943,1)" x="0" y="0" font-size="12.4" fill="#000" >01</text>
<text transform="translate(340.76,678.80) scale(1.1943,1)" x="0" y="0" font-size="12.4" fill="#000" >2022</text>
<text transform="translate(373.70,678.80) scale(1.0296,1)" x="0" y="0" font-size="12.4" fill="#000" >-</text>
<text transform="translate(377.95,678.80) scale(1.1943,1)" x="0" y="0" font-size="12.4" fill="#000" >01</text>
<text transform="translate(523.76,678.80) scale(1.1943,1)" x="0" y="0" font-size="12.4" fill="#000" >2023</text>
<text transform="translate(556.70,678.80) scale(1.0296,1)" x="0" y="0" font-size="12.4" fill="#000" >-</text>
<text transform="translate(560.95,678.80) scale(1.1943,1)" x="0" y="0" font-size="12.4" fill="#000" >01</text>
<text transform="translate(706.76,678.80) scale(1.1943,1)" x="0" y="0" font-size="12.4" fill="#000" >2024</text>
<text transform="translate(739.70,678.80) scale(1.0296,1)" x="0" y="0" font-size="12.4" fill="#000" >-</text>
<text transform="translate(743.95,678.80) scale(1.1943,1)" x="0" y="0" font-size="12.4" fill="#000" >01</text>
<text transform="translate(889.76,678.80) scale(1.1943,1)" x="0" y="0" font-size="12.4" fill="#000" >2025</text>
<text transform="translate(922.70,678.80) scale(1.0296,1)" x="0" y="0" font-size="12.4" fill="#000" >-</text>
<text transform="translate(926.95,678.80) scale(1.1943,1)" x="0" y="0" font-size="12.4" fill="#000" >01</text>
<text transform="translate(1072.76,678.80) scale(1.1943,1)" x="0" y="0" font-size="12.4" fill="#000" >2026</text>
<text transform="translate(1105.70,678.80) scale(1.0296,1)" x="0" y="0" font-size="12.4" fill="#000" >-</text>
<text transform="translate(1109.95,678.80) scale(1.1943,1)" x="0" y="0" font-size="12.4" fill="#000" >01</text>
<text transform="translate(57.08,496.70) scale(1.1892,1)" x="0" y="0" font-size="12.4" fill="#000" >1</text>
<text transform="translate(65.28,496.70) scale(1.0251,1)" x="0" y="0" font-size="12.4" fill="#000" >e</text>
<text transform="translate(72.35,496.70) scale(1.1892,1)" x="0" y="0" font-size="12.4" fill="#000" >6</text>
<text transform="translate(18.2,603.9) rotate(-90) scale(0.9944,1)" x="-0.06" y="0" font-size="13.0" fill="#000">Volume</text>
<rect x="64.6" y="16.4" width="108" height="120" rx="2.8" ry="2.8" fill="#fff" fill-opacity="0.8" stroke="#ccc" stroke-opacity="0.8" stroke-width="1.1"/>
<line x1="69.2" y1="25.7" x2="97.9" y2="25.7" stroke="#000" stroke-width="2.08"/>
<line x1="69.2" y1="46.0" x2="97.9" y2="46.0" stroke="#008000" stroke-width="2.08"/>
<line x1="69.2" y1="67.2" x2="97.9" y2="67.2" stroke="#ff0000" stroke-width="2.08"/>
<line x1="69.2" y1="85.9" x2="97.9" y2="85.9" stroke="#800080" stroke-width="2.08"/>
<path d="M84.5 95.9 L74.0 116.7 L94.9 116.7Z" fill="#008000"/>
<path d="M84.5 134.9 L74.0 114.1 L94.9 114.1Z" fill="#ff0000"/>
<text transform="translate(109.60,31.70) scale(1.0437,1)" x="-0.62" y="0" font-size="12.3" fill="#000" >Close</text>
<text transform="translate(108.79,51.70) scale(1.0018,1)" x="0" y="0" font-size="12.3" fill="#000" >MA</text>
<text transform="translate(127.27,51.70) scale(1.1621,1)" x="0" y="0" font-size="12.3" fill="#000" >50</text>
<text transform="translate(143.17,51.70) scale(1.0018,1)" x="0" y="0" font-size="12.3" fill="#000" >[</text>
<text x="147.6" y="52.8" font-size="13.9" fill="#000">买</text>
<text transform="translate(162.60,51.70) scale(1.1000,1)" x="-0.10" y="0" font-size="12.3" fill="#000">]</text>
<text transform="translate(108.79,73.00) scale(1.0018,1)" x="0" y="0" font-size="12.3" fill="#000" >MA</text>
<text transform="translate(127.27,73.00) scale(1.1621,1)" x="0" y="0" font-size="12.3" fill="#000" >25</text>
<text transform="translate(143.17,73.00) scale(1.0018,1)" x="0" y="0" font-size="12.3" fill="#000" >[</text>
<text x="147.6" y="74.1" font-size="13.9" fill="#000">卖</text>
<text transform="translate(162.60,73.00) scale(1.1000,1)" x="-0.10" y="0" font-size="12.3" fill="#000">]</text>
<text transform="translate(108.77,91.90) scale(1.0224,1)" x="0" y="0" font-size="12.3" fill="#000" >MA</text>
<text transform="translate(127.63,91.90) scale(1.1860,1)" x="0" y="0" font-size="12.3" fill="#000" >200</text>
<text transform="translate(109.80,110.10) scale(0.9920,1)" x="-1.01" y="0" font-size="12.3" fill="#000" >Buy</text>
<text transform="translate(109.80,128.60) scale(1.0717,1)" x="-0.56" y="0" font-size="12.3" fill="#000" >Sell</text>
<rect x="942.3" y="375.8" width="183.2" height="89.4" rx="3.5" ry="3.5" fill="#fff" fill-opacity="0.9" stroke="#198c19" stroke-width="1.1"/>
<text transform="translate(958.52,391.80) scale(1.1773,1)" x="0" y="0" font-size="14.3" fill="#198c19" >154</text>
<text transform="translate(986.61,391.80) scale(1.0150,1)" x="0" y="0" font-size="14.3" fill="#198c19" >.</text>
<text transform="translate(990.64,391.80) scale(1.1773,1)" x="0" y="0" font-size="14.3" fill="#198c19" >78</text>
<text transform="translate(1009.37,391.80) scale(1.0150,1)" x="0" y="0" font-size="14.3" fill="#198c19" > (+</text>
<text transform="translate(1026.71,391.80) scale(1.1773,1)" x="0" y="0" font-size="14.3" fill="#198c19" >1</text>
<text transform="translate(1036.07,391.80) scale(1.0150,1)" x="0" y="0" font-size="14.3" fill="#198c19" >.</text>
<text transform="translate(1040.10,391.80) scale(1.1773,1)" x="0" y="0" font-size="14.3" fill="#198c19" >00</text>
<text transform="translate(1058.83,391.80) scale(1.0150,1)" x="0" y="0" font-size="14.3" fill="#198c19" > +</text>
<text transform="translate(1071.34,391.80) scale(1.1773,1)" x="0" y="0" font-size="14.3" fill="#198c19" >0</text>
<text transform="translate(1080.70,391.80) scale(1.0150,1)" x="0" y="0" font-size="14.3" fill="#198c19" >.</text>
<text transform="translate(1084.73,391.80) scale(1.1773,1)" x="0" y="0" font-size="14.3" fill="#198c19" >65</text>
<text transform="translate(1103.46,391.80) scale(1.0150,1)" x="0" y="0" font-size="14.3" fill="#198c19" >%)</text>
<text transform="translate(1010.62,408.80) scale(1.1724,1)" x="0" y="0" font-size="14.3" fill="#198c19" >126</text>
<text transform="translate(1038.60,408.80) scale(1.0107,1)" x="0" y="0" font-size="14.3" fill="#198c19" >.</text>
<text transform="translate(1042.61,408.80) scale(1.1724,1)" x="0" y="0" font-size="14.3" fill="#198c19" >17</text>
<text transform="translate(1061.26,408.80) scale(1.0107,1)" x="0" y="0" font-size="14.3" fill="#198c19" >~</text>
<text transform="translate(1069.70,408.80) scale(1.1724,1)" x="0" y="0" font-size="14.3" fill="#198c19" >158</text>
<text transform="translate(1097.67,408.80) scale(1.0107,1)" x="0" y="0" font-size="14.3" fill="#198c19" >.</text>
<text transform="translate(1101.69,408.80) scale(1.1724,1)" x="0" y="0" font-size="14.3" fill="#198c19" >93</text>
<text transform="translate(953.68,424.90) scale(1.2156,1)" x="0" y="0" font-size="14.3" fill="#198c19" >153</text>
<text transform="translate(982.68,424.90) scale(1.0479,1)" x="0" y="0" font-size="14.3" fill="#198c19" >.</text>
<text transform="translate(986.84,424.90) scale(1.2156,1)" x="0" y="0" font-size="14.3" fill="#198c19" >96</text>
<text transform="translate(1006.18,424.90) scale(1.0479,1)" x="0" y="0" font-size="14.3" fill="#198c19" >/</text>
<text transform="translate(1010.34,424.90) scale(1.2156,1)" x="0" y="0" font-size="14.3" fill="#198c19" >149</text>
<text transform="translate(1039.34,424.90) scale(1.0479,1)" x="0" y="0" font-size="14.3" fill="#198c19" >.</text>
<text transform="translate(1043.51,424.90) scale(1.2156,1)" x="0" y="0" font-size="14.3" fill="#198c19" >56</text>
<text transform="translate(1062.84,424.90) scale(1.0479,1)" x="0" y="0" font-size="14.3" fill="#198c19" >/</text>
<text transform="translate(1067.01,424.90) scale(1.2156,1)" x="0" y="0" font-size="14.3" fill="#198c19" >139</text>
<text transform="translate(1096.01,424.90) scale(1.0479,1)" x="0" y="0" font-size="14.3" fill="#198c19" >.</text>
<text transform="translate(1100.17,424.90) scale(1.2156,1)" x="0" y="0" font-size="14.3" fill="#198c19" >34</text>
<text transform="translate(991.96,440.90) scale(1.1637,1)" x="0" y="0" font-size="14.3" fill="#198c19" >2025</text>
<text transform="translate(1028.98,440.90) scale(1.0032,1)" x="0" y="0" font-size="14.3" fill="#198c19" >-</text>
<text transform="translate(1033.76,440.90) scale(1.1637,1)" x="0" y="0" font-size="14.3" fill="#198c19" >12</text>
<text transform="translate(1052.27,440.90) scale(1.0032,1)" x="0" y="0" font-size="14.3" fill="#198c19" >-</text>
<text transform="translate(1057.05,440.90) scale(1.1637,1)" x="0" y="0" font-size="14.3" fill="#198c19" >18</text>
<text transform="translate(1075.56,440.90) scale(1.0032,1)" x="0" y="0" font-size="14.3" fill="#198c19" > </text>
<text transform="translate(1079.54,440.90) scale(1.1637,1)" x="0" y="0" font-size="14.3" fill="#198c19" >05</text>
<text transform="translate(1098.05,440.90) scale(1.0032,1)" x="0" y="0" font-size="14.3" fill="#198c19" >:</text>
<text transform="translate(1102.04,440.90) scale(1.1637,1)" x="0" y="0" font-size="14.3" fill="#198c19" >00</text>
<text transform="translate(946.11,458.80) scale(1.0868,1)" x="0" y="0" font-size="14.3" fill="#198c19" >-</text>
<text transform="translate(951.28,458.80) scale(1.2607,1)" x="0" y="0" font-size="14.3" fill="#198c19" >0</text>
<text transform="translate(961.31,458.80) scale(1.0868,1)" x="0" y="0" font-size="14.3" fill="#198c19" >.</text>
<text transform="translate(965.63,458.80) scale(1.2607,1)" x="0" y="0" font-size="14.3" fill="#198c19" >97</text>
<text transform="translate(985.68,458.80) scale(1.0868,1)" x="0" y="0" font-size="14.3" fill="#198c19" >/</text>
<text x="992.6" y="459.6" font-size="14.6" fill="#198c19">偏空</text>
<text transform="translate(1023.00,458.80) scale(1.1120,1)" x="0" y="0" font-size="14.3" fill="#198c19" >/+</text>
<text transform="translate(1036.70,458.80) scale(1.2900,1)" x="0" y="0" font-size="14.3" fill="#198c19" >0</text>
<text transform="translate(1046.96,458.80) scale(1.1120,1)" x="0" y="0" font-size="14.3" fill="#198c19" >.</text>
<text transform="translate(1051.38,458.80) scale(1.2900,1)" x="0" y="0" font-size="14.3" fill="#198c19" >51</text>
<text transform="translate(1071.90,458.80) scale(1.1120,1)" x="0" y="0" font-size="14.3" fill="#198c19" >/+</text>
<text transform="translate(1085.61,458.80) scale(1.2900,1)" x="0" y="0" font-size="14.3" fill="#198c19" >0</text>
<text transform="translate(1095.86,458.80) scale(1.1120,1)" x="0" y="0" font-size="14.3" fill="#198c19" >.</text>
<text transform="translate(1100.28,458.80) scale(1.2900,1)" x="0" y="0" font-size="14.3" fill="#198c19" >01</text>
<text transform="translate(57.30,716.75) scale(0.8992,1)" x="-0.34" y="0" font-size="15.1" fill="#000" >XLV</text>
<text x="88.2" y="718" font-size="16.4" fill="#000">交易次数</text>
<text transform="translate(156.30,716.75) scale(1.4606,1)" x="-1.38" y="0" font-size="15.1" fill="#000" >:</text>
<text transform="translate(165.60,716.75) scale(1.1873,1)" x="-0.58" y="0" font-size="15.1" fill="#000" >3</text>
<text x="57.6" y="737.2" font-size="16.4" fill="#000">策略总收益率</text>
<text transform="translate(158.50,735.85) scale(1.5302,1)" x="-1.38" y="0" font-size="15.1" fill="#000" >:</text>
<text transform="translate(166.61,735.85) scale(1.1608,1)" x="0" y="0" font-size="15.1" fill="#000" >65</text>
<text transform="translate(186.11,735.85) scale(1.0007,1)" x="0" y="0" font-size="15.1" fill="#000" >.</text>
<text transform="translate(190.31,735.85) scale(1.1608,1)" x="0" y="0" font-size="15.1" fill="#000" >66</text>
<text transform="translate(209.80,735.85) scale(1.0007,1)" x="0" y="0" font-size="15.1" fill="#000" >%</text>
<text x="57.6" y="756.3" font-size="16.4" fill="#000">长期持有收益</text>
<text transform="translate(158.50,754.90) scale(1.5302,1)" x="-1.38" y="0" font-size="15.1" fill="#000" >:</text>
<text transform="translate(166.80,754.90) scale(1.1569,1)" x="0" y="0" font-size="15.1" fill="#000" >59</text>
<text transform="translate(186.23,754.90) scale(0.9973,1)" x="0" y="0" font-size="15.1" fill="#000" >.</text>
<text transform="translate(190.42,754.90) scale(1.1569,1)" x="0" y="0" font-size="15.1" fill="#000" >72</text>
<text transform="translate(209.85,754.90) scale(0.9973,1)" x="0" y="0" font-size="15.1" fill="#000" >%</text>
<text x="58.3" y="776.8" font-size="16.4" fill="#000">交易记录</text>
<text transform="translate(125.20,775.30) scale(1.4606,1)" x="-1.38" y="0" font-size="15.1" fill="#000" >:</text>
<text transform="translate(67.90,792.40) scale(1.0581,1)" x="-1.24" y="0" font-size="15.1" fill="#000" >Buy Date</text>
<text transform="translate(143.75,792.40) scale(1.0294,1)" x="-1.24" y="0" font-size="15.1" fill="#000" >Buy Price</text>
<text transform="translate(220.20,792.40) scale(1.0866,1)" x="-0.69" y="0" font-size="15.1" fill="#000" >Sell Date</text>
<text transform="translate(296.60,792.40) scale(1.0702,1)" x="-0.69" y="0" font-size="15.1" fill="#000" >Sell Price</text>
<text transform="translate(374.90,792.40) scale(1.0589,1)" x="-1.24" y="0" font-size="15.1" fill="#000" >Holding Days</text>
<text transform="translate(479.40,792.40) scale(1.0453,1)" x="-1.24" y="0" font-size="15.1" fill="#000" >Profit %</text>
<text transform="translate(56.90,809.20) scale(1.1823,1)" x="0" y="0" font-size="15.1" fill="#000" >2020</text>
<text transform="translate(96.62,809.20) scale(1.0192,1)" x="0" y="0" font-size="15.1" fill="#000" >-</text>
<text transform="translate(101.74,809.20) scale(1.1823,1)" x="0" y="0" font-size="15.1" fill="#000" >10</text>
<text transform="translate(121.60,809.20) scale(1.0192,1)" x="0" y="0" font-size="15.1" fill="#000" >-</text>
<text transform="translate(126.73,809.20) scale(1.1823,1)" x="0" y="0" font-size="15.1" fill="#000" >06</text>
<text transform="translate(176.74,809.20) scale(1.2135,1)" x="0" y="0" font-size="15.1" fill="#000" >96</text>
<text transform="translate(197.12,809.20) scale(1.0462,1)" x="0" y="0" font-size="15.1" fill="#000" >.</text>
<text transform="translate(201.51,809.20) scale(1.2135,1)" x="0" y="0" font-size="15.1" fill="#000" >91</text>
<text transform="translate(226.60,809.20) scale(1.1805,1)" x="0" y="0" font-size="15.1" fill="#000" >2021</text>
<text transform="translate(266.26,809.20) scale(1.0176,1)" x="0" y="0" font-size="15.1" fill="#000" >-</text>
<text transform="translate(271.37,809.20) scale(1.1805,1)" x="0" y="0" font-size="15.1" fill="#000" >09</text>
<text transform="translate(291.20,809.20) scale(1.0176,1)" x="0" y="0" font-size="15.1" fill="#000" >-</text>
<text transform="translate(296.32,809.20) scale(1.1805,1)" x="0" y="0" font-size="15.1" fill="#000" >09</text>
<text transform="translate(345.19,809.20) scale(1.2224,1)" x="0" y="0" font-size="15.1" fill="#000" >125</text>
<text transform="translate(375.99,809.20) scale(1.0538,1)" x="0" y="0" font-size="15.1" fill="#000" >.</text>
<text transform="translate(380.41,809.20) scale(1.2224,1)" x="0" y="0" font-size="15.1" fill="#000" >54</text>
<text transform="translate(456.80,809.20) scale(1.1727,1)" x="-0.58" y="0" font-size="15.1" fill="#000" >338</text>
<text transform="translate(511.08,809.20) scale(1.2053,1)" x="0" y="0" font-size="15.1" fill="#000" >29</text>
<text transform="translate(531.33,809.20) scale(1.0391,1)" x="0" y="0" font-size="15.1" fill="#000" >.</text>
<text transform="translate(535.69,809.20) scale(1.2053,1)" x="0" y="0" font-size="15.1" fill="#000" >54</text>
<text transform="translate(56.90,827.00) scale(1.1823,1)" x="0" y="0" font-size="15.1" fill="#000" >2021</text>
<text transform="translate(96.62,827.00) scale(1.0192,1)" x="0" y="0" font-size="15.1" fill="#000" >-</text>
<text transform="translate(101.74,827.00) scale(1.1823,1)" x="0" y="0" font-size="15.1" fill="#000" >09</text>
<text transform="translate(121.60,827.00) scale(1.0192,1)" x="0" y="0" font-size="15.1" fill="#000" >-</text>
<text transform="translate(126.73,827.00) scale(1.1823,1)" x="0" y="0" font-size="15.1" fill="#000" >13</text>
<text transform="translate(171.53,827.00) scale(1.1905,1)" x="0" y="0" font-size="15.1" fill="#000" >123</text>
<text transform="translate(201.52,827.00) scale(1.0263,1)" x="0" y="0" font-size="15.1" fill="#000" >.</text>
<text transform="translate(205.83,827.00) scale(1.1905,1)" x="0" y="0" font-size="15.1" fill="#000" >64</text>
<text transform="translate(231.10,827.00) scale(1.1892,1)" x="0" y="0" font-size="15.1" fill="#000" >2024</text>
<text transform="translate(271.04,827.00) scale(1.0252,1)" x="0" y="0" font-size="15.1" fill="#000" >-</text>
<text transform="translate(276.20,827.00) scale(1.1892,1)" x="0" y="0" font-size="15.1" fill="#000" >09</text>
<text transform="translate(296.17,827.00) scale(1.0252,1)" x="0" y="0" font-size="15.1" fill="#000" >-</text>
<text transform="translate(301.33,827.00) scale(1.1892,1)" x="0" y="0" font-size="15.1" fill="#000" >20</text>
<text transform="translate(350.39,827.00) scale(1.2262,1)" x="0" y="0" font-size="15.1" fill="#000" >152</text>
<text transform="translate(381.28,827.00) scale(1.0571,1)" x="0" y="0" font-size="15.1" fill="#000" >.</text>
<text transform="translate(385.72,827.00) scale(1.2262,1)" x="0" y="0" font-size="15.1" fill="#000" >06</text>
<text transform="translate(456.80,827.00) scale(1.1927,1)" x="-1.15" y="0" font-size="15.1" fill="#000" >1103</text>
<text transform="translate(520.98,827.00) scale(1.2145,1)" x="0" y="0" font-size="15.1" fill="#000" >22</text>
<text transform="translate(541.38,827.00) scale(1.0470,1)" x="0" y="0" font-size="15.1" fill="#000" >.</text>
<text transform="translate(545.77,827.00) scale(1.2145,1)" x="0" y="0" font-size="15.1" fill="#000" >99</text>
<text transform="translate(56.90,844.40) scale(1.1823,1)" x="0" y="0" font-size="15.1" fill="#000" >2024</text>
<text transform="translate(96.62,844.40) scale(1.0192,1)" x="0" y="0" font-size="15.1" fill="#000" >-</text>
<text transform="translate(101.74,844.40) scale(1.1823,1)" x="0" y="0" font-size="15.1" fill="#000" >10</text>
<text transform="translate(121.60,844.40) scale(1.0192,1)" x="0" y="0" font-size="15.1" fill="#000" >-</text>
<text transform="translate(126.73,844.40) scale(1.1823,1)" x="0" y="0" font-size="15.1" fill="#000" >03</text>
<text transform="translate(171.52,844.40) scale(1.1966,1)" x="0" y="0" font-size="15.1" fill="#000" >148</text>
<text transform="translate(201.67,844.40) scale(1.0315,1)" x="0" y="0" font-size="15.1" fill="#000" >.</text>
<text transform="translate(206.00,844.40) scale(1.1966,1)" x="0" y="0" font-size="15.1" fill="#000" >86</text>
<text transform="translate(231.10,844.40) scale(1.1903,1)" x="0" y="0" font-size="15.1" fill="#000" >2025</text>
<text transform="translate(271.08,844.40) scale(1.0261,1)" x="0" y="0" font-size="15.1" fill="#000" >-</text>
<text transform="translate(276.24,844.40) scale(1.1903,1)" x="0" y="0" font-size="15.1" fill="#000" >12</text>
<text transform="translate(296.23,844.40) scale(1.0261,1)" x="0" y="0" font-size="15.1" fill="#000" >-</text>
<text transform="translate(301.39,844.40) scale(1.1903,1)" x="0" y="0" font-size="15.1" fill="#000" >18</text>
<text transform="translate(350.79,844.40) scale(1.2283,1)" x="0" y="0" font-size="15.1" fill="#000" >154</text>
<text transform="translate(381.73,844.40) scale(1.0589,1)" x="0" y="0" font-size="15.1" fill="#000" >.</text>
<text transform="translate(386.18,844.40) scale(1.2283,1)" x="0" y="0" font-size="15.1" fill="#000" >78</text>
<text transform="translate(462.00,844.40) scale(1.1655,1)" x="-0.35" y="0" font-size="15.1" fill="#000" >441</text>
<text transform="translate(521.19,844.40) scale(1.2292,1)" x="0" y="0" font-size="15.1" fill="#000" >3</text>
<text transform="translate(531.52,844.40) scale(1.0597,1)" x="0" y="0" font-size="15.1" fill="#000" >.</text>
<text transform="translate(535.96,844.40) scale(1.2292,1)" x="0" y="0" font-size="15.1" fill="#000" >98</text>
</g>
</svg>
</body></html>
